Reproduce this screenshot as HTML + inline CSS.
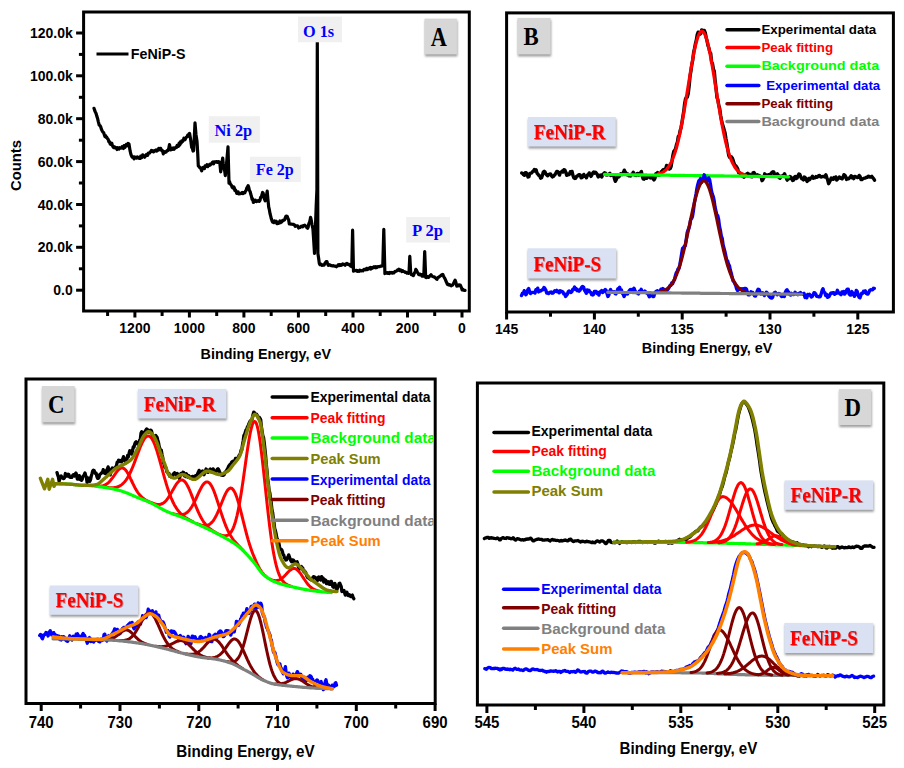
<!DOCTYPE html><html><head><meta charset="utf-8"><style>html,body{margin:0;padding:0;background:#fff;}svg{display:block;}</style></head><body>
<svg width="904" height="768" viewBox="0 0 904 768">
<defs><filter id="blur" x="-20%" y="-20%" width="140%" height="140%"><feGaussianBlur stdDeviation="1"/></filter><filter id="tsh" x="-10%" y="-10%" width="120%" height="130%"><feDropShadow dx="0.6" dy="0.8" stdDeviation="0.5" flood-color="#600" flood-opacity="0.55"/></filter><clipPath id="clipC"><rect x="27.5" y="380" width="406" height="322"/></clipPath></defs>
<rect width="904" height="768" fill="#fff"/>
<polyline points="94,108.3 94.7,110.5 95.3,111.9 96,113.2 96.8,116.1 97.5,118.1 98.3,121.6 99.2,125 100,125.6 100.8,127 101.5,129.6 102.3,131.1 103,132.2 103.7,132.6 104.3,134.7 105,136.6 105.7,135.8 106.3,137.6 106.9,137.4 107.6,138.9 108.2,139.3 108.8,141.6 109.4,141.5 110,143.7 110.6,144.3 111.2,144.6 111.8,143.2 112.4,145.6 113,146.7 113.6,147.5 114.2,146.7 114.9,147.8 115.6,147.4 116.3,147.7 117,149.5 117.6,147.7 118.3,148.3 118.9,149.1 119.5,147.7 120.2,148.1 120.8,148.2 121.5,147.9 122.1,146.6 122.8,147.5 123.5,148.5 124.1,145.6 124.8,147.6 125.5,146 126.3,144.4 127,145.8 128.1,143.5 129,143.9 130.1,150.9 130.8,154 131.5,155.9 132.1,157.1 132.8,156.7 133.4,157.8 134,158.8 134.7,157 135.4,157.9 136.1,157.4 136.7,158 137.4,156.9 138.1,157.6 138.8,157.7 139.4,158.5 140.1,158.5 140.7,156.1 141.4,156.4 142.1,157.5 142.7,154.9 143.4,156.1 144,156.2 144.7,157.2 145.3,156.3 145.9,155 146.5,154.5 147.1,154.2 147.7,155.3 148.4,153.2 149,152.8 149.6,153 150.2,152.1 150.8,151.6 151.4,150.4 152.1,151.2 152.8,150.6 153.6,151.9 154.3,151.3 155,150.5 155.6,150.9 156.2,149.9 156.8,151 157.5,149.9 158.1,150.2 158.7,148.4 159.3,149.7 160,148.3 160.7,148.4 161.3,150.3 162,150.2 162.7,151.6 163.3,153.9 164,151.5 164.7,152.1 165.4,152.3 166,152.1 166.7,150.9 167.3,150.4 168,150.6 168.8,148.2 169.5,144.5 170.5,149.9 171.2,149.7 171.9,148.5 172.6,149.3 173.3,148 174,149.4 174.7,148.4 175.3,148 175.9,147.1 176.6,147.3 177.2,145.3 177.9,145.8 178.5,146.3 179.1,143.2 179.8,145 180.4,141.8 181,143.2 181.7,141 182.4,141.7 183.2,140.4 183.9,138.2 184.6,139.9 185.2,139.6 185.8,137.8 186.4,137.2 187,136.9 187.7,135.2 188.3,136.2 188.9,133.9 189.6,133.5 190.6,139.3 191.7,147.5 192.3,147.9 193,151 193.6,150.7 194.3,137.7 195,122.9 196,134.7 197,141.2 197.7,153.1 198.3,165.8 199,166.5 199.7,167.5 200.3,167.6 201,169.1 201.7,170.8 202.4,168.2 203.1,167.4 203.8,168.1 204.5,168.6 205.1,165.8 205.8,166.6 206.4,166 207,164.7 207.7,166.7 208.3,165.8 209,165.5 209.6,164.4 210.3,165 210.9,163.8 211.6,163.7 212.3,162.5 212.9,162 213.6,163.8 214.2,161.8 214.9,162.2 215.5,161.9 216.1,161.5 216.7,161.5 217.4,162.4 218,161.6 218.6,161.8 219.2,161.9 219.8,162.9 220.7,171.8 221.4,167.5 222,162.7 222.7,158 223.3,164 224,168 224.7,171 225.3,175.6 226,168.8 226.7,161.9 227.3,155 228,146.9 229,183.1 229.6,181.6 230.3,184.1 230.9,184.6 231.6,185.7 232.2,187.4 232.9,188 233.5,186.8 234.2,187.4 234.8,190.4 235.5,189.9 236.2,191.7 236.8,193.4 237.5,192.3 238.2,192 238.8,193.9 239.5,193.7 240.1,193.5 240.8,193.7 241.5,193 242.1,192.5 242.8,193.6 243.4,192.9 244.1,192.4 244.8,192.9 245.4,191.2 246.1,190.4 246.8,188 247.4,187.1 248.1,185.6 248.8,187.6 249.4,190.4 250.1,191.5 250.8,194.3 251.4,196.2 252.1,199.5 252.7,198.7 253.4,202.4 254.1,201.5 254.7,201.4 255.4,200.2 256,200.8 256.7,201.6 257.4,200.9 258,200.9 258.7,200.4 259.3,201.4 260,200.4 260.6,197.3 261.3,197.2 261.9,194.9 262.6,192.5 263.2,193.3 263.9,197.4 264.5,199.1 265.2,200.8 265.9,197.4 266.5,195.5 267.2,191.2 267.9,199.1 268.7,207 269.4,209.9 270,213.5 270.7,216.2 271.3,218.8 272,220.8 272.6,222.1 273.2,221.3 273.8,222.7 274.5,221 275.1,222 275.7,222.2 276.3,221.3 276.9,223.7 277.5,223.6 278.2,222.3 278.8,223.3 279.4,223.1 280,221 280.6,222.7 281.3,222 281.9,221.7 282.6,220.4 283.2,220.5 283.9,220.2 284.6,219.8 285.2,217.9 285.9,216.3 286.6,216.1 287.3,216.6 288,218.7 288.6,219.6 289.3,224 290,223.9 290.6,224.1 291.3,224.2 291.9,224.1 292.6,224.4 293.3,224.3 293.9,224.6 294.6,225.1 295.2,226.4 295.9,226 296.6,225.9 297.3,225.8 297.9,226.1 298.6,228 299.3,227.5 300,227.5 300.7,226.9 301.3,226.1 302,226.5 302.7,226.8 303.4,225.6 304,225.4 304.7,225.1 305.4,226.1 306.1,226 306.9,227.7 307.6,228.2 308.2,227 308.8,223.8 309.4,222.3 310,220.6 310.6,217.3 311.4,220.9 312.1,225.1 312.9,228.7 313.7,240.5 314.5,253.5 315.6,222.7 316.2,205.7 316.9,189.9 317.3,42.1 317.9,253.5 318.6,258 319.3,263.4 320,264.7 320.7,263.9 321.4,264.9 322,265.3 322.7,264.9 323.4,265.2 324.1,265.2 324.8,263.5 325.5,262.6 326.2,261.6 326.9,261.5 327.6,263.9 328.3,265.4 328.9,264.7 329.6,264.8 330.2,265.1 330.8,265.6 331.4,265.5 332.1,265.8 332.7,265.9 333.3,265.7 333.9,266 334.6,266.2 335.2,266.2 335.8,266.3 336.4,266.8 337,266.1 337.7,265.7 338.3,264.8 338.9,265.6 339.5,264.5 340.1,264.6 340.7,265.5 341.4,265.3 342,264.8 342.6,264 343.2,264.5 343.8,264.2 344.4,264.7 345.1,265.3 345.7,264.2 346.3,263.7 346.9,263.4 347.5,264.2 348.1,264.4 348.7,264.2 349.4,265.1 350,264.8 350.6,266.1 351.2,266.4 351.8,266.7 352.6,230.2 353.5,271.1 354.1,270.8 354.8,270.7 355.4,270.7 356,270.3 356.6,270.3 357.2,271.3 357.9,270.8 358.5,271 359.1,271.4 359.8,270.1 360.4,270.5 361,271 361.6,270.9 362.2,270.3 362.9,270.8 363.5,270.2 364.1,269.4 364.7,269.3 365.3,269.9 366,269.6 366.6,268.3 367.2,269.6 367.8,269 368.4,269.2 369.1,268.2 369.7,268.1 370.3,267.5 370.9,269.1 371.6,267.7 372.2,268.4 372.8,267.3 373.4,267.6 374.1,266.7 374.7,267.2 375.3,267.7 375.9,266.6 376.6,267.6 377.2,267.2 377.8,266.5 378.4,266.6 379.1,266.5 379.7,266.6 380.3,266.3 380.9,266.1 381.6,266.2 382.2,265.8 382.8,265.6 383.8,229.3 384.9,273.6 385.5,272.5 386.2,273.1 386.8,272.8 387.4,272.6 388.1,273.4 388.7,272.7 389.4,273.6 390,272.5 390.6,273 391.3,272.7 391.9,272.4 392.5,273 393.2,272.6 393.8,272.9 394.4,272.2 395.1,271.3 395.7,271.4 396.3,271 396.9,271 397.6,269.8 398.2,269.8 398.8,269.2 399.5,270.5 400.1,270 400.7,269.9 401.4,270.9 402,271.6 402.6,270.7 403.2,271.1 403.9,271.5 404.5,271.5 405.1,272.4 405.8,272.1 406.4,272.4 407,273.1 407.7,272.7 408.4,273.3 409,272.9 409.8,256.4 410.7,272.5 411.4,274.7 412,274.3 412.7,275.1 413.4,275.6 414,274.2 414.6,272.7 415.2,272.1 415.8,269.3 416.6,270.5 417.3,272.1 418.1,273.3 418.7,274.5 419.4,274.8 420,274.2 420.6,274.3 421.3,275 421.9,276.1 422.5,274.4 423.2,276.2 423.8,275.7 424.7,251.5 425.7,277.5 426.4,277.6 427,276.7 427.7,276.7 428.4,277.4 429,276.9 429.7,276 430.3,275.5 431,274.7 431.7,275.8 432.3,276.3 433,276.6 433.6,276.9 434.3,276.8 434.9,277.6 435.6,277.9 436.2,278.8 436.9,279.4 437.6,278.1 438.2,277.3 438.9,277.2 439.5,276.5 440.2,276 440.8,275.8 441.5,274.9 442.1,275.2 442.8,274.5 443.5,276 444.1,277.2 444.8,278.4 445.4,279.7 446.1,281.5 446.7,282.7 447.4,284.5 448.1,284.7 448.7,284.3 449.4,285.2 450.1,284.8 450.8,285.4 451.4,285.8 452.1,285.3 452.7,285.1 453.3,283.9 453.9,282.6 454.5,281.3 455.1,280.1 456,282.8 456.8,286.1 457.5,285.7 458.2,285.8 458.9,284.9 459.6,285.3 460.3,285.1 460.9,286.5 461.5,287.9 462.1,289.9 462.8,289.1 463.6,290.2 464.3,290.3 465,290.4" fill="none" stroke="#000" stroke-width="3.2" stroke-linejoin="round" stroke-linecap="round" />
<rect x="83.6" y="12" width="385.7" height="299" fill="none" stroke="#000" stroke-width="3"/>
<line x1="76.1" y1="290.2" x2="83.6" y2="290.2" stroke="#000" stroke-width="3" stroke-linecap="butt"/>
<line x1="78.9" y1="268.8" x2="83.6" y2="268.8" stroke="#000" stroke-width="3" stroke-linecap="butt"/>
<line x1="76.1" y1="247.3" x2="83.6" y2="247.3" stroke="#000" stroke-width="3" stroke-linecap="butt"/>
<line x1="78.9" y1="225.9" x2="83.6" y2="225.9" stroke="#000" stroke-width="3" stroke-linecap="butt"/>
<line x1="76.1" y1="204.5" x2="83.6" y2="204.5" stroke="#000" stroke-width="3" stroke-linecap="butt"/>
<line x1="78.9" y1="183" x2="83.6" y2="183" stroke="#000" stroke-width="3" stroke-linecap="butt"/>
<line x1="76.1" y1="161.6" x2="83.6" y2="161.6" stroke="#000" stroke-width="3" stroke-linecap="butt"/>
<line x1="78.9" y1="140.2" x2="83.6" y2="140.2" stroke="#000" stroke-width="3" stroke-linecap="butt"/>
<line x1="76.1" y1="118.7" x2="83.6" y2="118.7" stroke="#000" stroke-width="3" stroke-linecap="butt"/>
<line x1="78.9" y1="97.3" x2="83.6" y2="97.3" stroke="#000" stroke-width="3" stroke-linecap="butt"/>
<line x1="76.1" y1="75.8" x2="83.6" y2="75.8" stroke="#000" stroke-width="3" stroke-linecap="butt"/>
<line x1="78.9" y1="54.4" x2="83.6" y2="54.4" stroke="#000" stroke-width="3" stroke-linecap="butt"/>
<line x1="76.1" y1="33" x2="83.6" y2="33" stroke="#000" stroke-width="3" stroke-linecap="butt"/>
<text x="0" y="0" font-family='"Liberation Sans", sans-serif' font-size="14" font-weight="bold" fill="#000" text-anchor="end"  transform="translate(72.8 295.2) scale(1 1.05)">0.0</text>
<text x="0" y="0" font-family='"Liberation Sans", sans-serif' font-size="14" font-weight="bold" fill="#000" text-anchor="end"  transform="translate(72.8 252.3) scale(1 1.05)">20.0k</text>
<text x="0" y="0" font-family='"Liberation Sans", sans-serif' font-size="14" font-weight="bold" fill="#000" text-anchor="end"  transform="translate(72.8 209.5) scale(1 1.05)">40.0k</text>
<text x="0" y="0" font-family='"Liberation Sans", sans-serif' font-size="14" font-weight="bold" fill="#000" text-anchor="end"  transform="translate(72.8 166.6) scale(1 1.05)">60.0k</text>
<text x="0" y="0" font-family='"Liberation Sans", sans-serif' font-size="14" font-weight="bold" fill="#000" text-anchor="end"  transform="translate(72.8 123.7) scale(1 1.05)">80.0k</text>
<text x="0" y="0" font-family='"Liberation Sans", sans-serif' font-size="14" font-weight="bold" fill="#000" text-anchor="end"  transform="translate(72.8 80.8) scale(1 1.05)">100.0k</text>
<text x="0" y="0" font-family='"Liberation Sans", sans-serif' font-size="14" font-weight="bold" fill="#000" text-anchor="end"  transform="translate(72.8 38) scale(1 1.05)">120.0k</text>
<line x1="462" y1="311" x2="462" y2="317.5" stroke="#000" stroke-width="3" stroke-linecap="butt"/>
<line x1="407.5" y1="311" x2="407.5" y2="317.5" stroke="#000" stroke-width="3" stroke-linecap="butt"/>
<line x1="353" y1="311" x2="353" y2="317.5" stroke="#000" stroke-width="3" stroke-linecap="butt"/>
<line x1="298.4" y1="311" x2="298.4" y2="317.5" stroke="#000" stroke-width="3" stroke-linecap="butt"/>
<line x1="243.9" y1="311" x2="243.9" y2="317.5" stroke="#000" stroke-width="3" stroke-linecap="butt"/>
<line x1="189.4" y1="311" x2="189.4" y2="317.5" stroke="#000" stroke-width="3" stroke-linecap="butt"/>
<line x1="134.9" y1="311" x2="134.9" y2="317.5" stroke="#000" stroke-width="3" stroke-linecap="butt"/>
<line x1="434.7" y1="311" x2="434.7" y2="316" stroke="#000" stroke-width="3" stroke-linecap="butt"/>
<line x1="380.2" y1="311" x2="380.2" y2="316" stroke="#000" stroke-width="3" stroke-linecap="butt"/>
<line x1="325.7" y1="311" x2="325.7" y2="316" stroke="#000" stroke-width="3" stroke-linecap="butt"/>
<line x1="271.2" y1="311" x2="271.2" y2="316" stroke="#000" stroke-width="3" stroke-linecap="butt"/>
<line x1="216.7" y1="311" x2="216.7" y2="316" stroke="#000" stroke-width="3" stroke-linecap="butt"/>
<line x1="162.1" y1="311" x2="162.1" y2="316" stroke="#000" stroke-width="3" stroke-linecap="butt"/>
<line x1="107.6" y1="311" x2="107.6" y2="316" stroke="#000" stroke-width="3" stroke-linecap="butt"/>
<text x="0" y="0" font-family='"Liberation Sans", sans-serif' font-size="14" font-weight="bold" fill="#000" text-anchor="middle"  transform="translate(462 333.3) scale(1 1.1)">0</text>
<text x="0" y="0" font-family='"Liberation Sans", sans-serif' font-size="14" font-weight="bold" fill="#000" text-anchor="middle"  transform="translate(407.5 333.3) scale(1 1.1)">200</text>
<text x="0" y="0" font-family='"Liberation Sans", sans-serif' font-size="14" font-weight="bold" fill="#000" text-anchor="middle"  transform="translate(353 333.3) scale(1 1.1)">400</text>
<text x="0" y="0" font-family='"Liberation Sans", sans-serif' font-size="14" font-weight="bold" fill="#000" text-anchor="middle"  transform="translate(298.4 333.3) scale(1 1.1)">600</text>
<text x="0" y="0" font-family='"Liberation Sans", sans-serif' font-size="14" font-weight="bold" fill="#000" text-anchor="middle"  transform="translate(243.9 333.3) scale(1 1.1)">800</text>
<text x="0" y="0" font-family='"Liberation Sans", sans-serif' font-size="14" font-weight="bold" fill="#000" text-anchor="middle"  transform="translate(189.4 333.3) scale(1 1.1)">1000</text>
<text x="0" y="0" font-family='"Liberation Sans", sans-serif' font-size="14" font-weight="bold" fill="#000" text-anchor="middle"  transform="translate(134.9 333.3) scale(1 1.1)">1200</text>
<text x="0" y="0" font-family='"Liberation Sans", sans-serif' font-size="14.4" font-weight="bold" fill="#000" text-anchor="middle"  transform="translate(265.8 359.2) scale(1 1.04)" textLength="130.5" lengthAdjust="spacingAndGlyphs">Binding Energy, eV</text>
<text x="21.2" y="165.5" font-family='"Liberation Sans", sans-serif' font-size="15" font-weight="bold" fill="#000" text-anchor="middle" transform="rotate(-90 21.2 165.5)" textLength="51" lengthAdjust="spacingAndGlyphs">Counts</text>
<line x1="96.5" y1="54" x2="128.5" y2="54" stroke="#000" stroke-width="3" stroke-linecap="butt"/>
<text x="130.8" y="59" font-family='"Liberation Sans", sans-serif' font-size="14.3" font-weight="bold" fill="#000" text-anchor="start"  textLength="54.6" lengthAdjust="spacingAndGlyphs">FeNiP-S</text>
<rect x="298" y="16.6" width="44" height="25.7" fill="#f0f0f0"/>
<text x="0" y="0" font-family='"Liberation Serif", serif' font-size="16.3" font-weight="bold" fill="#0000ff" text-anchor="middle"  transform="translate(318.6 36.5) scale(1.0 1.04)" textLength="31.2" lengthAdjust="spacingAndGlyphs">O 1s</text>
<rect x="208.8" y="116.2" width="51.1" height="26.5" fill="#f0f0f0"/>
<text x="0" y="0" font-family='"Liberation Serif", serif' font-size="16.3" font-weight="bold" fill="#0000ff" text-anchor="middle"  transform="translate(233.3 135.6) scale(1.0 1.04)" textLength="37.7" lengthAdjust="spacingAndGlyphs">Ni 2p</text>
<rect x="249.9" y="156.7" width="50.9" height="25.2" fill="#f0f0f0"/>
<text x="0" y="0" font-family='"Liberation Serif", serif' font-size="16.3" font-weight="bold" fill="#0000ff" text-anchor="middle"  transform="translate(274.8 175.4) scale(1.0 1.04)" textLength="38" lengthAdjust="spacingAndGlyphs">Fe 2p</text>
<rect x="406.2" y="217" width="43.8" height="25.6" fill="#f0f0f0"/>
<text x="0" y="0" font-family='"Liberation Serif", serif' font-size="16.3" font-weight="bold" fill="#0000ff" text-anchor="middle"  transform="translate(427.5 235.7) scale(1.0 1.04)" textLength="31" lengthAdjust="spacingAndGlyphs">P 2p</text>
<rect x="425" y="20.6" width="32.4" height="35.8" fill="#9a9a9a" filter="url(#blur)"/>
<rect x="424.5" y="18.6" width="32.4" height="35.8" fill="#d7d7d7"/>
<text x="0" y="0" font-family='"Liberation Serif", serif' font-size="24" font-weight="bold" fill="#000" text-anchor="middle"  transform="translate(438.8 45.6) scale(0.93 1.14)">A</text>
<polyline points="521.7,173.1 522.6,173.4 523.5,174.7 524.4,175.3 525.3,172.7 526.2,172.8 527.1,174 528,177 528.9,176.7 529.8,173.4 530.7,173.3 531.6,172.9 532.5,171.7 533.4,171.1 534.3,169.5 535.2,171 536.1,169.8 537,173.1 537.9,174.2 538.8,175.3 539.7,175.9 540.6,178.2 541.5,177.8 542.4,175.4 543.3,172 544.2,171.3 545.1,172.1 546,174.1 546.9,175.1 547.8,175.8 548.7,174.4 549.6,174.2 550.5,173.9 551.4,175.5 552.3,176.9 553.2,176.5 554.1,175.5 555,174.6 555.9,173 556.8,171.4 557.7,171.7 558.6,172.8 559.5,175.1 560.4,172.4 561.3,172.1 562.2,171 563.1,172 564,169.7 564.9,170.1 565.8,172.2 566.7,175.3 567.6,175 568.5,174 569.4,174.4 570.3,171.8 571.2,171.7 572.1,171.5 573,175.6 573.9,177.8 574.8,178.5 575.7,178.1 576.6,176.4 577.5,176 578.4,175 579.3,174.6 580.2,174.8 581.1,177.8 582,177.6 582.9,176.5 583.8,174.4 584.7,176.2 585.6,176.2 586.5,177.8 587.4,175 588.3,174.8 589.2,172.9 590.1,175 591,176.4 591.9,174.9 592.8,172.9 593.7,172 594.6,173.1 595.5,172.3 596.4,173.2 597.3,174.6 598.2,177 599.1,175.2 600,175.9 600.9,175 601.8,176.9 602.7,174.6 603.6,173.8 604.5,172.8 605.4,173.1 606.3,174.9 607.2,175 608.1,174.7 609,174 609.9,173.3 610.8,175.5 611.7,174.7 612.6,174.6 613.5,174.9 614.4,178.4 615.3,181.3 616.2,179.9 617.1,177.5 618,177 618.9,176.8 619.8,175.4 620.7,173.7 621.6,174.4 622.5,174.6 623.4,172.5 624.3,170.2 625.2,172 626.1,173.1 627,174.7 627.9,174.1 628.8,175.8 629.7,175.6 630.6,175.9 631.5,174.1 632.4,174.1 633.3,172.3 634.2,174.7 635.1,175.2 636,175.5 636.9,173.7 637.8,173.5 638.7,175.2 639.6,173.8 640.5,172.8 641.4,171.5 642.3,176.5 643.2,178.9 644.1,179.2 645,177 645.9,178.3 646.8,178.2 647.7,176.9 648.6,175.9 649.5,176.7 650.4,177.9 651.3,175.8 652.2,177.5 653.1,178.7 654,179.9 654.9,178.3 655.8,173.8 656.7,173.7 657.6,172.5 658.5,175.2 659.4,175 660.3,174.6 661.2,171.7 662.1,170.9 663,169.9 663.9,171 664.8,169.1 665.7,168.8 666.6,165.5 667.5,166.7 668.4,166.2 669.3,169.1 670.2,168.6 671.1,166.6 672,161 672.9,155.3 673.8,151.3 674.7,150.3 675.6,148.7 676.5,144.5 677.4,142.2 678.3,136.4 679.2,135.6 680.1,130.7 681,127.9 681.9,122.7 682.8,117.1 683.7,111.6 684.6,103.9 685.5,99.1 686.4,97.2 687.3,97.2 688.2,93.7 689.1,86.3 690,76.5 690.9,71.2 691.8,64.6 692.7,60.5 693.6,52.7 694.5,48.5 695.4,43.7 696.3,40.3 697.2,34.9 698.1,32.2 699,34.2 699.9,34.3 700.8,33.5 701.7,29.9 702.6,31.4 703.5,30.5 704.4,30.5 705.3,32.8 706.2,37.6 707.1,41.2 708,45.7 708.9,48 709.8,52.2 710.7,53.3 711.6,62 712.5,63.8 713.4,69 714.3,71.4 715.2,81.3 716.1,89 717,97.6 717.9,99.9 718.8,105.6 719.7,108.6 720.6,115.2 721.5,120 722.4,124 723.3,126.7 724.2,129.9 725.1,133.3 726,139.1 726.9,143.7 727.8,149.4 728.7,155.3 729.6,157.4 730.5,157.6 731.4,156.9 732.3,158.1 733.2,160.4 734.1,163.6 735,165.4 735.9,165.8 736.8,167.2 737.7,168.9 738.6,172.6 739.5,172.7 740.4,174.2 741.3,174.4 742.2,176.2 743.1,176.4 744,177.2 744.9,176.5 745.8,174.5 746.7,174 747.6,173.4 748.5,175.5 749.4,174.2 750.3,176.6 751.2,176.6 752.1,176.8 753,172.9 753.9,172.5 754.8,173.8 755.7,175.1 756.6,175.5 757.5,174.9 758.4,176.4 759.3,175.5 760.2,176.2 761.1,176.7 762,180.7 762.9,179.6 763.8,177.8 764.7,173.8 765.6,175.9 766.5,175.1 767.4,175.6 768.3,174.6 769.2,174.8 770.1,174.3 771,173.7 771.9,172.4 772.8,171.8 773.7,171.9 774.6,174.6 775.5,176.1 776.4,174.5 777.3,173.8 778.2,175 779.1,177.8 780,178.2 780.9,176.2 781.8,176.3 782.7,175.7 783.6,175.4 784.5,173.7 785.4,176.1 786.3,177.8 787.2,180.2 788.1,177.9 789,178.7 789.9,176.6 790.8,177 791.7,178.9 792.6,180.5 793.5,180.1 794.4,177.1 795.3,176.5 796.2,178.6 797.1,178.1 798,175.7 798.9,173.9 799.8,174.5 800.7,176.7 801.6,178.6 802.5,179 803.4,179.9 804.3,177 805.2,177.6 806.1,179.2 807,181.4 807.9,180.7 808.8,178.4 809.7,179.6 810.6,178.2 811.5,177.9 812.4,176.3 813.3,178.3 814.2,177.9 815.1,177.8 816,176.6 816.9,177.2 817.8,176.7 818.7,175.7 819.6,175.5 820.5,176.8 821.4,177 822.3,176.7 823.2,176.5 824.1,176.4 825,176.9 825.9,174.8 826.8,177.5 827.7,180 828.6,183.7 829.5,182.1 830.4,180.2 831.3,178 832.2,178.4 833.1,179.3 834,177.6 834.9,178.8 835.8,176.9 836.7,180.1 837.6,179.1 838.5,178.4 839.4,177 840.3,177.7 841.2,178.5 842.1,178.8 843,177.3 843.9,174.7 844.8,175.2 845.7,176.7 846.6,179.4 847.5,178.4 848.4,178.8 849.3,178.1 850.2,177.2 851.1,175.8 852,177.7 852.9,176.9 853.8,178.6 854.7,176.4 855.6,176.8 856.5,176.9 857.4,177.5 858.3,177.3 859.2,175.4 860.1,176.6 861,179.6 861.9,179.5 862.8,178.9 863.7,178.3 864.6,178.1 865.5,178 866.4,177.1 867.3,177.3 868.2,176.3 869.1,176.4 870,177.1 870.9,177 871.8,176.4 872.7,177.7 873.6,178.7 874.5,180.2" fill="none" stroke="#000" stroke-width="3.4" stroke-linejoin="round" stroke-linecap="round" />
<polyline points="658.5,173.9 659.5,173.6 660.5,173.3 661.5,172.9 662.5,172.4 663.5,171.8 664.5,171.1 665.5,170.3 666.5,169.3 667.5,168.2 668.5,166.8 669.5,165.3 670.5,163.6 671.5,161.6 672.5,159.4 673.5,156.8 674.5,154 675.5,150.9 676.5,147.5 677.5,143.7 678.5,139.6 679.5,135.2 680.5,130.5 681.5,125.4 682.5,120.1 683.5,114.5 684.5,108.7 685.5,102.7 686.5,96.6 687.5,90.3 688.5,84.1 689.5,77.9 690.5,71.8 691.5,65.9 692.5,60.2 693.5,54.9 694.5,49.9 695.5,45.4 696.5,41.5 697.5,38.1 698.5,35.3 699.5,33.2 700.5,31.9 701.5,31.2 702.5,31.3 703.5,32.1 704.5,33.7 705.5,35.9 706.5,38.8 707.5,42.3 708.5,46.5 709.5,51.1 710.5,56.1 711.5,61.6 712.5,67.3 713.5,73.3 714.5,79.5 715.5,85.7 716.5,92 717.5,98.2 718.5,104.3 719.5,110.3 720.5,116.1 721.5,121.7 722.5,127 723.5,132 724.5,136.7 725.5,141.1 726.5,145.1 727.5,148.8 728.5,152.2 729.5,155.3 730.5,158.1 731.5,160.6 732.5,162.8 733.5,164.8 734.5,166.5 735.5,168 736.5,169.3 737.5,170.4 738.5,171.4 739.5,172.2 740.5,172.9 741.5,173.5 742.5,174 743.5,174.5 744.5,174.8 745.5,175.1" fill="none" stroke="#ff0000" stroke-width="3.2" stroke-linejoin="round" stroke-linecap="round" />
<polyline points="604.5,174.4 605.5,174.4 606.5,174.4 607.5,174.4 608.5,174.5 609.5,174.5 610.5,174.5 611.5,174.5 612.5,174.5 613.5,174.5 614.5,174.5 615.5,174.5 616.5,174.6 617.5,174.6 618.5,174.6 619.5,174.6 620.5,174.6 621.5,174.6 622.5,174.6 623.5,174.6 624.5,174.7 625.5,174.7 626.5,174.7 627.5,174.7 628.5,174.7 629.5,174.7 630.5,174.7 631.5,174.8 632.5,174.8 633.5,174.8 634.5,174.8 635.5,174.8 636.5,174.8 637.5,174.8 638.5,174.8 639.5,174.9 640.5,174.9 641.5,174.9 642.5,174.9 643.5,174.9 644.5,174.9 645.5,174.9 646.5,174.9 647.5,175 648.5,175 649.5,175 650.5,175 651.5,175 652.5,175 653.5,175 654.5,175.1 655.5,175.1 656.5,175.1 657.5,175.1 658.5,175.1 659.5,175.1 660.5,175.1 661.5,175.1 662.5,175.2 663.5,175.2 664.5,175.2 665.5,175.2 666.5,175.2 667.5,175.2 668.5,175.2 669.5,175.2 670.5,175.3 671.5,175.3 672.5,175.3 673.5,175.3 674.5,175.3 675.5,175.3 676.5,175.3 677.5,175.3 678.5,175.4 679.5,175.4 680.5,175.4 681.5,175.4 682.5,175.4 683.5,175.4 684.5,175.4 685.5,175.5 686.5,175.5 687.5,175.5 688.5,175.5 689.5,175.5 690.5,175.5 691.5,175.5 692.5,175.5 693.5,175.6 694.5,175.6 695.5,175.6 696.5,175.6 697.5,175.6 698.5,175.6 699.5,175.6 700.5,175.6 701.5,175.7 702.5,175.7 703.5,175.7 704.5,175.7 705.5,175.7 706.5,175.7 707.5,175.7 708.5,175.8 709.5,175.8 710.5,175.8 711.5,175.8 712.5,175.8 713.5,175.8 714.5,175.8 715.5,175.8 716.5,175.9 717.5,175.9 718.5,175.9 719.5,175.9 720.5,175.9 721.5,175.9 722.5,175.9 723.5,175.9 724.5,176 725.5,176 726.5,176 727.5,176 728.5,176 729.5,176 730.5,176 731.5,176.1 732.5,176.1 733.5,176.1 734.5,176.1 735.5,176.1 736.5,176.1 737.5,176.1 738.5,176.1 739.5,176.2 740.5,176.2 741.5,176.2 742.5,176.2 743.5,176.2 744.5,176.2 745.5,176.2 746.5,176.2 747.5,176.3 748.5,176.3 749.5,176.3 750.5,176.3 751.5,176.3 752.5,176.3 753.5,176.3 754.5,176.4 755.5,176.4 756.5,176.4 757.5,176.4 758.5,176.4 759.5,176.4 760.5,176.4 761.5,176.4 762.5,176.5 763.5,176.5 764.5,176.5 765.5,176.5 766.5,176.5 767.5,176.5 768.5,176.5 769.5,176.5 770.5,176.6 771.5,176.6 772.5,176.6 773.5,176.6 774.5,176.6 775.5,176.6 776.5,176.6 777.5,176.7 778.5,176.7 779.5,176.7 780.5,176.7 781.5,176.7 782.5,176.7 783.5,176.7 784.5,176.7 785.5,176.8 786.5,176.8 787.5,176.8 788.5,176.8" fill="none" stroke="#00ff00" stroke-width="3.2" stroke-linejoin="round" stroke-linecap="round" />
<polyline points="521.5,295.6 522.4,293.3 523.3,293.6 524.2,290.7 525.1,293.7 526,294.8 526.9,292.9 527.8,289.7 528.7,288.5 529.6,291.7 530.5,293.6 531.4,292.8 532.3,292.4 533.2,292.4 534.1,292.4 535,293 535.9,289.7 536.8,290.5 537.7,288.2 538.6,291.9 539.5,290.9 540.4,291.1 541.3,290.5 542.2,289.7 543.1,289.7 544,287.5 544.9,288.5 545.8,290.1 546.7,293.1 547.6,293 548.5,293.6 549.4,292.5 550.3,292.6 551.2,292 552.1,293.2 553,293 553.9,292 554.8,290.7 555.7,291.2 556.6,290.4 557.5,291.8 558.4,291.3 559.3,292.8 560.2,290.7 561.1,291.6 562,291.5 562.9,292 563.8,293.9 564.7,293.9 565.6,296.4 566.5,295.2 567.4,294.1 568.3,291.6 569.2,291 570.1,291.9 571,292.4 571.9,291.6 572.8,289.4 573.7,289.1 574.6,287 575.5,289.5 576.4,288.9 577.3,290.6 578.2,290 579.1,291.1 580,290.3 580.9,288.6 581.8,287.1 582.7,286.4 583.6,287.3 584.5,290.3 585.4,291.5 586.3,293.3 587.2,290 588.1,291.5 589,290.4 589.9,292 590.8,292.3 591.7,294.7 592.6,295 593.5,294.5 594.4,291.4 595.3,291.8 596.2,291.4 597.1,293.5 598,292.8 598.9,295.1 599.8,291.9 600.7,291.6 601.6,290.6 602.5,292.5 603.4,291.9 604.3,290.6 605.2,289.5 606.1,290.5 607,293.6 607.9,296.5 608.8,295.1 609.7,291.3 610.6,289.6 611.5,292 612.4,292.1 613.3,291.8 614.2,291.6 615.1,293.6 616,293.9 616.9,291.7 617.8,288.9 618.7,288.5 619.6,287.3 620.5,289.9 621.4,290 622.3,293.1 623.2,294.4 624.1,296.5 625,294.6 625.9,293.5 626.8,293.5 627.7,293.9 628.6,291.9 629.5,290.4 630.4,289.5 631.3,292.2 632.2,289.6 633.1,290.2 634,288.2 634.9,290.7 635.8,292.2 636.7,292.8 637.6,292.8 638.5,293.9 639.4,291.2 640.3,291.5 641.2,289.3 642.1,291.9 643,292.2 643.9,292 644.8,291.1 645.7,291.8 646.6,293.2 647.5,293.2 648.4,294.6 649.3,296.8 650.2,295.9 651.1,293.9 652,294.1 652.9,296.6 653.8,296.5 654.7,293.4 655.6,291.8 656.5,291.2 657.4,290.7 658.3,292.1 659.2,291.7 660.1,291.6 661,289.2 661.9,289.3 662.8,288.5 663.7,289.3 664.6,290.2 665.5,291.2 666.4,291.4 667.3,290 668.2,288.9 669.1,287.3 670,285.6 670.9,285.3 671.8,282.9 672.7,283.5 673.6,281.1 674.5,279.8 675.4,275.7 676.3,272.8 677.2,271.6 678.1,268.8 679,268.5 679.9,264.4 680.8,259.3 681.7,253.5 682.6,248.3 683.5,247.6 684.4,246.2 685.3,245.8 686.2,239.9 687.1,233.1 688,230.3 688.9,228.3 689.8,225.1 690.7,219.6 691.6,218.5 692.5,216.3 693.4,210.8 694.3,203.4 695.2,198.5 696.1,193.7 697,188.1 697.9,184.1 698.8,180.9 699.7,180.2 700.6,178.4 701.5,182.5 702.4,180.2 703.3,179.2 704.2,174.8 705.1,177.3 706,180.1 706.9,180.8 707.8,180.4 708.7,177.9 709.6,179.7 710.5,184.9 711.4,190.8 712.3,194.2 713.2,196.4 714.1,200.4 715,206.9 715.9,210.8 716.8,214.8 717.7,215.7 718.6,219.4 719.5,226.6 720.4,230.5 721.3,236 722.2,238.3 723.1,245 724,248.3 724.9,251.7 725.8,255.8 726.7,260.2 727.6,261 728.5,263.9 729.4,265.7 730.3,270 731.2,272.9 732.1,277 733,280.7 733.9,281.6 734.8,283.6 735.7,285.4 736.6,288.7 737.5,290.4 738.4,289.9 739.3,289.2 740.2,289.4 741.1,288.7 742,289.7 742.9,288.7 743.8,290.3 744.7,288.5 745.6,288.4 746.5,289.1 747.4,292.4 748.3,294.8 749.2,294.9 750.1,293.8 751,291.8 751.9,292.5 752.8,292.5 753.7,294.2 754.6,295.8 755.5,296.1 756.4,293.8 757.3,290.8 758.2,289.2 759.1,289.6 760,292.1 760.9,294 761.8,293.7 762.7,292.9 763.6,294.1 764.5,295.5 765.4,294 766.3,292.2 767.2,292.9 768.1,294.4 769,296.2 769.9,297.2 770.8,297.9 771.7,298.1 772.6,297.4 773.5,294.3 774.4,292.7 775.3,292.3 776.2,293.6 777.1,294.8 778,294 778.9,293.4 779.8,294 780.7,295.2 781.6,296.5 782.5,295.9 783.4,296.4 784.3,296.5 785.2,292.7 786.1,290.7 787,289.8 787.9,291.5 788.8,292.5 789.7,294.4 790.6,295 791.5,293.4 792.4,294.4 793.3,294.5 794.2,294.3 795.1,292.3 796,293.3 796.9,293.9 797.8,294.6 798.7,293.5 799.6,293.3 800.5,292.6 801.4,294 802.3,294.3 803.2,294.4 804.1,293.4 805,297.4 805.9,296.2 806.8,297.8 807.7,294.5 808.6,295.1 809.5,294.4 810.4,295.4 811.3,297 812.2,296.5 813.1,294.8 814,292.7 814.9,292.9 815.8,294.2 816.7,296.4 817.6,296.3 818.5,296.8 819.4,296.9 820.3,296.6 821.2,293.7 822.1,290.6 823,288.7 823.9,292.2 824.8,292.5 825.7,295.6 826.6,294.4 827.5,297.3 828.4,297 829.3,296.2 830.2,294 831.1,292.9 832,293.2 832.9,292.8 833.8,292.7 834.7,294.3 835.6,292.9 836.5,293.2 837.4,290.3 838.3,292.5 839.2,293.1 840.1,294 841,294.7 841.9,291.9 842.8,293.2 843.7,291.6 844.6,294.1 845.5,293 846.4,290.7 847.3,289.1 848.2,289.1 849.1,293.9 850,295 850.9,295 851.8,291.6 852.7,292.9 853.6,294.7 854.5,296.3 855.4,294.4 856.3,290.4 857.2,291.4 858.1,294.7 859,297.3 859.9,297.8 860.8,295.3 861.7,293.3 862.6,293.4 863.5,291.3 864.4,292.2 865.3,290.9 866.2,293.3 867.1,294 868,294.1 868.9,292.2 869.8,290.2 870.7,289.8 871.6,289.9 872.5,289.8 873.4,288.3 874.3,288.5" fill="none" stroke="#0000ff" stroke-width="3.4" stroke-linejoin="round" stroke-linecap="round" />
<polyline points="660.7,291.6 661.7,291.4 662.7,291.1 663.7,290.7 664.7,290.2 665.7,289.7 666.7,289 667.7,288.3 668.7,287.4 669.7,286.4 670.7,285.2 671.7,283.9 672.7,282.4 673.7,280.7 674.7,278.8 675.7,276.7 676.7,274.3 677.7,271.7 678.7,268.9 679.7,265.9 680.7,262.5 681.7,259 682.7,255.2 683.7,251.2 684.7,247 685.7,242.6 686.7,238.1 687.7,233.4 688.7,228.7 689.7,224 690.7,219.2 691.7,214.5 692.7,209.9 693.7,205.5 694.7,201.3 695.7,197.4 696.7,193.8 697.7,190.5 698.7,187.7 699.7,185.3 700.7,183.4 701.7,182 702.7,181.1 703.7,180.8 704.7,181 705.7,181.8 706.7,183.1 707.7,184.9 708.7,187.3 709.7,190 710.7,193.2 711.7,196.8 712.7,200.7 713.7,204.9 714.7,209.3 715.7,213.8 716.7,218.5 717.7,223.3 718.7,228.1 719.7,232.8 720.7,237.5 721.7,242.1 722.7,246.5 723.7,250.8 724.7,254.8 725.7,258.7 726.7,262.3 727.7,265.7 728.7,268.8 729.7,271.7 730.7,274.4 731.7,276.8 732.7,279 733.7,281 734.7,282.7 735.7,284.3 736.7,285.6 737.7,286.9 738.7,287.9 739.7,288.8 740.7,289.6 741.7,290.3 742.7,290.9 743.7,291.4 744.7,291.8 745.7,292.2 746.7,292.5 747.7,292.7" fill="none" stroke="#800000" stroke-width="3.2" stroke-linejoin="round" stroke-linecap="round" />
<polyline points="607.7,292.3 608.7,292.3 609.7,292.3 610.7,292.3 611.7,292.3 612.7,292.4 613.7,292.4 614.7,292.4 615.7,292.4 616.7,292.4 617.7,292.4 618.7,292.4 619.7,292.4 620.7,292.4 621.7,292.4 622.7,292.5 623.7,292.5 624.7,292.5 625.7,292.5 626.7,292.5 627.7,292.5 628.7,292.5 629.7,292.5 630.7,292.5 631.7,292.5 632.7,292.6 633.7,292.6 634.7,292.6 635.7,292.6 636.7,292.6 637.7,292.6 638.7,292.6 639.7,292.6 640.7,292.6 641.7,292.6 642.7,292.7 643.7,292.7 644.7,292.7 645.7,292.7 646.7,292.7 647.7,292.7 648.7,292.7 649.7,292.7 650.7,292.7 651.7,292.8 652.7,292.8 653.7,292.8 654.7,292.8 655.7,292.8 656.7,292.8 657.7,292.8 658.7,292.8 659.7,292.8 660.7,292.8 661.7,292.9 662.7,292.9 663.7,292.9 664.7,292.9 665.7,292.9 666.7,292.9 667.7,292.9 668.7,292.9 669.7,292.9 670.7,292.9 671.7,293 672.7,293 673.7,293 674.7,293 675.7,293 676.7,293 677.7,293 678.7,293 679.7,293 680.7,293 681.7,293.1 682.7,293.1 683.7,293.1 684.7,293.1 685.7,293.1 686.7,293.1 687.7,293.1 688.7,293.1 689.7,293.1 690.7,293.2 691.7,293.2 692.7,293.2 693.7,293.2 694.7,293.2 695.7,293.2 696.7,293.2 697.7,293.2 698.7,293.2 699.7,293.2 700.7,293.3 701.7,293.3 702.7,293.3 703.7,293.3 704.7,293.3 705.7,293.3 706.7,293.3 707.7,293.3 708.7,293.3 709.7,293.3 710.7,293.4 711.7,293.4 712.7,293.4 713.7,293.4 714.7,293.4 715.7,293.4 716.7,293.4 717.7,293.4 718.7,293.4 719.7,293.4 720.7,293.5 721.7,293.5 722.7,293.5 723.7,293.5 724.7,293.5 725.7,293.5 726.7,293.5 727.7,293.5 728.7,293.5 729.7,293.6 730.7,293.6 731.7,293.6 732.7,293.6 733.7,293.6 734.7,293.6 735.7,293.6 736.7,293.6 737.7,293.6 738.7,293.6 739.7,293.7 740.7,293.7 741.7,293.7 742.7,293.7 743.7,293.7 744.7,293.7 745.7,293.7 746.7,293.7 747.7,293.7 748.7,293.7 749.7,293.8 750.7,293.8 751.7,293.8 752.7,293.8 753.7,293.8 754.7,293.8 755.7,293.8 756.7,293.8 757.7,293.8 758.7,293.9 759.7,293.9 760.7,293.9 761.7,293.9 762.7,293.9 763.7,293.9 764.7,293.9 765.7,293.9 766.7,293.9 767.7,293.9 768.7,294 769.7,294 770.7,294 771.7,294 772.7,294 773.7,294 774.7,294 775.7,294 776.7,294 777.7,294 778.7,294.1 779.7,294.1 780.7,294.1 781.7,294.1 782.7,294.1 783.7,294.1 784.7,294.1 785.7,294.1 786.7,294.1 787.7,294.1 788.7,294.2 789.7,294.2 790.7,294.2 791.7,294.2 792.7,294.2 793.7,294.2 794.7,294.2 795.7,294.2 796.7,294.2 797.7,294.3 798.7,294.3 799.7,294.3 800.7,294.3 801.7,294.3" fill="none" stroke="#808080" stroke-width="3.2" stroke-linejoin="round" stroke-linecap="round" />
<rect x="506.6" y="12.9" width="386.8" height="299.1" fill="none" stroke="#000" stroke-width="3"/>
<line x1="506.6" y1="312" x2="506.6" y2="319.5" stroke="#000" stroke-width="3" stroke-linecap="butt"/>
<line x1="594.4" y1="312" x2="594.4" y2="319.5" stroke="#000" stroke-width="3" stroke-linecap="butt"/>
<line x1="682.2" y1="312" x2="682.2" y2="319.5" stroke="#000" stroke-width="3" stroke-linecap="butt"/>
<line x1="770" y1="312" x2="770" y2="319.5" stroke="#000" stroke-width="3" stroke-linecap="butt"/>
<line x1="857.8" y1="312" x2="857.8" y2="319.5" stroke="#000" stroke-width="3" stroke-linecap="butt"/>
<line x1="550.5" y1="312" x2="550.5" y2="316.7" stroke="#000" stroke-width="3" stroke-linecap="butt"/>
<line x1="638.3" y1="312" x2="638.3" y2="316.7" stroke="#000" stroke-width="3" stroke-linecap="butt"/>
<line x1="726.1" y1="312" x2="726.1" y2="316.7" stroke="#000" stroke-width="3" stroke-linecap="butt"/>
<line x1="813.9" y1="312" x2="813.9" y2="316.7" stroke="#000" stroke-width="3" stroke-linecap="butt"/>
<text x="0" y="0" font-family='"Liberation Sans", sans-serif' font-size="14" font-weight="bold" fill="#000" text-anchor="middle"  transform="translate(506.6 333.8) scale(1 1.1)">145</text>
<text x="0" y="0" font-family='"Liberation Sans", sans-serif' font-size="14" font-weight="bold" fill="#000" text-anchor="middle"  transform="translate(594.4 333.8) scale(1 1.1)">140</text>
<text x="0" y="0" font-family='"Liberation Sans", sans-serif' font-size="14" font-weight="bold" fill="#000" text-anchor="middle"  transform="translate(682.2 333.8) scale(1 1.1)">135</text>
<text x="0" y="0" font-family='"Liberation Sans", sans-serif' font-size="14" font-weight="bold" fill="#000" text-anchor="middle"  transform="translate(770 333.8) scale(1 1.1)">130</text>
<text x="0" y="0" font-family='"Liberation Sans", sans-serif' font-size="14" font-weight="bold" fill="#000" text-anchor="middle"  transform="translate(857.8 333.8) scale(1 1.1)">125</text>
<text x="0" y="0" font-family='"Liberation Sans", sans-serif' font-size="14.4" font-weight="bold" fill="#000" text-anchor="middle"  transform="translate(707.1 353.3) scale(1 1.05)" textLength="130.6" lengthAdjust="spacingAndGlyphs">Binding Energy, eV</text>
<rect x="517.9" y="19.9" width="33.2" height="36.5" fill="#9a9a9a" filter="url(#blur)"/>
<rect x="517.4" y="17.9" width="33.2" height="36.5" fill="#d7d7d7"/>
<text x="0" y="0" font-family='"Liberation Serif", serif' font-size="24" font-weight="bold" fill="#000" text-anchor="middle"  transform="translate(531 45.2) scale(0.95 1.05)">B</text>
<rect x="528.4" y="119" width="87.9" height="29.5" fill="#9a9a9a" filter="url(#blur)"/>
<rect x="527.9" y="117" width="87.9" height="29.5" fill="#d9e1f2"/>
<text x="0" y="0" font-family='"Liberation Serif", serif' font-size="19.3" font-weight="bold" fill="#ff0000" text-anchor="start" filter="url(#tsh)" transform="translate(533.7 138.5) scale(1 1.07)" textLength="71.8" lengthAdjust="spacingAndGlyphs">FeNiP-R</text>
<rect x="528.1" y="250.3" width="88.6" height="30.2" fill="#9a9a9a" filter="url(#blur)"/>
<rect x="527.6" y="248.3" width="88.6" height="30.2" fill="#d9e1f2"/>
<text x="0" y="0" font-family='"Liberation Serif", serif' font-size="19.3" font-weight="bold" fill="#ff0000" text-anchor="start" filter="url(#tsh)" transform="translate(533.4 270.5) scale(1 1.07)" textLength="67.8" lengthAdjust="spacingAndGlyphs">FeNiP-S</text>
<line x1="727" y1="29.8" x2="758.8" y2="29.8" stroke="#000" stroke-width="3.5" stroke-linecap="round"/>
<text x="761.4" y="34.3" font-family='"Liberation Sans", sans-serif' font-size="13.4" font-weight="bold" fill="#000" text-anchor="start"  textLength="114.9" lengthAdjust="spacingAndGlyphs">Experimental data</text>
<line x1="727" y1="47.6" x2="758.8" y2="47.6" stroke="#ff0000" stroke-width="3.5" stroke-linecap="round"/>
<text x="761.4" y="52" font-family='"Liberation Sans", sans-serif' font-size="13.4" font-weight="bold" fill="#ff0000" text-anchor="start"  textLength="71.7" lengthAdjust="spacingAndGlyphs">Peak fitting</text>
<line x1="727" y1="66.2" x2="758.8" y2="66.2" stroke="#00ff00" stroke-width="3.5" stroke-linecap="round"/>
<text x="761.4" y="70.4" font-family='"Liberation Sans", sans-serif' font-size="13.4" font-weight="bold" fill="#00ff00" text-anchor="start"  textLength="117.9" lengthAdjust="spacingAndGlyphs">Background data</text>
<line x1="727" y1="85.6" x2="758.8" y2="85.6" stroke="#0000ff" stroke-width="3.5" stroke-linecap="round"/>
<text x="766.2" y="89.9" font-family='"Liberation Sans", sans-serif' font-size="13.4" font-weight="bold" fill="#0000ff" text-anchor="start"  textLength="114" lengthAdjust="spacingAndGlyphs">Experimental data</text>
<line x1="727" y1="103.8" x2="758.8" y2="103.8" stroke="#800000" stroke-width="3.5" stroke-linecap="round"/>
<text x="761.4" y="107.8" font-family='"Liberation Sans", sans-serif' font-size="13.4" font-weight="bold" fill="#800000" text-anchor="start"  textLength="71.7" lengthAdjust="spacingAndGlyphs">Peak fitting</text>
<line x1="727" y1="121.6" x2="758.8" y2="121.6" stroke="#808080" stroke-width="3.5" stroke-linecap="round"/>
<text x="761.4" y="126" font-family='"Liberation Sans", sans-serif' font-size="13.4" font-weight="bold" fill="#808080" text-anchor="start"  textLength="117.9" lengthAdjust="spacingAndGlyphs">Background data</text>
<g clip-path="url(#clipC)">
<polyline points="57,472.6 57.7,474.9 58.4,476.9 59.1,481.2 59.8,479 60.5,477.5 61.2,476 61.9,477.4 62.6,477.7 63.3,478.6 64,478.4 64.7,477.3 65.4,473.5 66.1,474.3 66.8,476.1 67.5,476 68.2,474.3 68.9,474.6 69.6,477 70.3,477.4 71,477.4 71.7,477.4 72.4,476 73.1,474.9 73.8,474.7 74.5,476.1 75.2,473.9 75.9,473 76.6,474.6 77.3,479.1 78,476.8 78.7,479 79.4,475.7 80.1,479.5 80.8,477.8 81.5,480.3 82.2,479.3 82.9,476.3 83.6,475.8 84.3,474.7 85,473 85.7,475.6 86.4,477.3 87.1,482.5 87.8,477.9 88.5,478.7 89.2,478.4 89.9,481.3 90.6,479.4 91.3,475.9 92,473.7 92.7,471 93.4,470.2 94.1,470.5 94.8,471.9 95.5,473.6 96.2,473.3 96.9,476.7 97.6,478.4 98.3,478.3 99,477.3 99.7,474.6 100.4,474 101.1,473.5 101.8,472.7 102.5,472.6 103.2,469.6 103.9,471.1 104.6,473.2 105.3,473.6 106,473.4 106.7,470 107.4,469.1 108.1,466.9 108.8,469.4 109.5,473.2 110.2,474.9 110.9,471.8 111.6,469.3 112.3,467.9 113,469.4 113.7,468.5 114.4,468.8 115.1,468.2 115.8,466.8 116.5,465.5 117.2,462.2 117.9,461.9 118.6,460.2 119.3,461.6 120,460.4 120.7,461.7 121.4,461.9 122.1,460.7 122.8,459 123.5,456.6 124.2,458.6 124.9,460.9 125.6,462.4 126.3,460.3 127,459.2 127.7,455.4 128.4,456.8 129.1,453.3 129.8,450.8 130.5,451.2 131.2,453 131.9,454.1 132.6,450.1 133.3,446.9 134,447.2 134.7,444.1 135.4,442.4 136.1,441.8 136.8,442.8 137.5,444 138.2,442.4 138.9,443.8 139.6,440.3 140.3,439.4 141,433.2 141.7,431.7 142.4,432.4 143.1,432.9 143.8,434.4 144.5,432.1 145.2,431.4 145.9,429.9 146.6,429 147.3,429.4 148,430.7 148.7,432.2 149.4,432.2 150.1,430.3 150.8,430.1 151.5,431 152.2,433.8 152.9,437.1 153.6,438.7 154.3,438 155,435.8 155.7,435.4 156.4,436.4 157.1,437.5 157.8,440.2 158.5,442.6 159.2,446.6 159.9,448.5 160.6,450.7 161.3,450.2 162,454.6 162.7,457.3 163.4,462.9 164.1,463.9 164.8,467.2 165.5,466.8 166.2,468.6 166.9,471.8 167.6,472.1 168.3,473.7 169,473.4 169.7,476.3 170.4,476.6 171.1,476.9 171.8,476.2 172.5,476.3 173.2,474 173.9,474.1 174.6,472.8 175.3,473.5 176,474.4 176.7,475.4 177.4,473.5 178.1,475.5 178.8,476.1 179.5,478.5 180.2,475.3 180.9,473.5 181.6,473.2 182.3,474.1 183,472.2 183.7,472.5 184.4,475.9 185.1,475.9 185.8,476.6 186.5,473.8 187.2,476.3 187.9,477.2 188.6,475.6 189.3,476.4 190,476.9 190.7,478.4 191.4,478 192.1,476.6 192.8,476.4 193.5,479 194.2,477.7 194.9,479.3 195.6,475.6 196.3,477.2 197,475.6 197.7,473.5 198.4,472.1 199.1,470.4 199.8,472.4 200.5,473.8 201.2,473.1 201.9,471.7 202.6,471 203.3,472 204,474.7 204.7,472.9 205.4,471.3 206.1,469 206.8,469.9 207.5,472.1 208.2,472.3 208.9,470.9 209.6,469.7 210.3,469.1 211,471.7 211.7,472.1 212.4,471.6 213.1,468.9 213.8,470 214.5,472.5 215.2,473.2 215.9,471.7 216.6,471.1 217.3,469.3 218,468.7 218.7,469.7 219.4,471.3 220.1,473.3 220.8,473.8 221.5,475.1 222.2,474.5 222.9,475.4 223.6,475.2 224.3,474.4 225,472.3 225.7,471.7 226.4,470.7 227.1,469.5 227.8,468.4 228.5,466.5 229.2,465.5 229.9,464.6 230.6,465.6 231.3,462.8 232,461.8 232.7,461.3 233.4,462.6 234.1,460.8 234.8,460.9 235.5,458.4 236.2,458.8 236.9,458.7 237.6,458.5 238.3,457.1 239,455.6 239.7,454.7 240.4,453.4 241.1,450.2 241.8,449.7 242.5,444.7 243.2,440.7 243.9,435.5 244.6,434.5 245.3,432.2 246,430 246.7,429.4 247.4,427 248.1,426 248.8,424 249.5,422.4 250.2,420.8 250.9,420.8 251.6,420.6 252.3,418.1 253,414.7 253.7,412.2 254.4,412.7 255.1,413.8 255.8,414.2 256.5,414.2 257.2,415.3 257.9,416.8 258.6,418.6 259.3,417.3 260,418.4 260.7,419.7 261.4,426.8 262.1,431.2 262.8,435.7 263.5,437.2 264.2,442.4 264.9,448.8 265.6,455.5 266.3,464.5 267,470.7 267.7,479 268.4,483.6 269.1,490.5 269.8,492.8 270.5,497.9 271.2,502.6 271.9,509.5 272.6,512.3 273.3,518.3 274,522.6 274.7,528.6 275.4,530.5 276.1,533.8 276.8,537.8 277.5,539.4 278.2,541 278.9,543.2 279.6,546.9 280.3,549.3 281,549.7 281.7,549.7 282.4,551.3 283.1,554.5 283.8,555.2 284.5,558 285.2,558.4 285.9,560 286.6,559.8 287.3,557.7 288,556.8 288.7,554.9 289.4,556.8 290.1,559.1 290.8,560.6 291.5,561.7 292.2,559.9 292.9,561.6 293.6,560.2 294.3,562.4 295,561.7 295.7,562.4 296.4,562 297.1,561.8 297.8,563.7 298.5,566.7 299.2,569.2 299.9,568.6 300.6,567.5 301.3,566.4 302,568.8 302.7,567.9 303.4,571.1 304.1,570.5 304.8,572.6 305.5,572 306.2,574.3 306.9,576.2 307.6,577.5 308.3,576.9 309,578.4 309.7,579 310.4,579.1 311.1,579.8 311.8,578.8 312.5,579.4 313.2,576.8 313.9,576.6 314.6,577.7 315.3,577.5 316,578.8 316.7,578.5 317.4,580.7 318.1,577.4 318.8,577 319.5,577.7 320.2,579.6 320.9,580.1 321.6,576.6 322.3,578.6 323,577.9 323.7,582.1 324.4,579.3 325.1,581.2 325.8,580.2 326.5,583.7 327.2,582 327.9,581.8 328.6,583.8 329.3,584.2 330,584.4 330.7,581.5 331.4,581.5 332.1,584 332.8,586.7 333.5,587.3 334.2,583.9 334.9,583.4 335.6,585.8 336.3,589.2 337,589.4 337.7,587.2 338.4,586.3 339.1,583.5 339.8,583.2 340.5,585 341.2,586.4 341.9,591.5 342.6,591 343.3,591.6 344,590.4 344.7,593.1 345.4,595.1 346.1,593.3 346.8,592.2 347.5,593.9 348.2,595.5 348.9,594.7 349.6,594.9 350.3,596.4 351,596.6 351.7,595.6 352.4,595.1 353.1,597.5 353.8,598.7" fill="none" stroke="#000" stroke-width="3.3" stroke-linejoin="round" stroke-linecap="round" />
<polyline points="96.9,486.2 97.6,486.2 98.3,486.2 99,486.2 99.7,486.2 100.4,486.2 101.1,486.1 101.8,486 102.5,485.9 103.2,485.7 103.9,485.4 104.6,485.2 105.3,484.8 106,484.5 106.7,484 107.4,483.5 108.1,482.9 108.8,482.3 109.5,481.6 110.2,480.8 110.9,479.9 111.6,479 112.3,478.1 113,477.1 113.7,476.1 114.4,475.1 115.1,474.1 115.8,473.1 116.5,472.2 117.2,471.3 117.9,470.4 118.6,469.7 119.3,469.1 120,468.5 120.7,468.2 121.4,467.9 122.1,467.9 122.8,468 123.5,468.2 124.2,468.7 124.9,469.3 125.6,470 126.3,470.9 127,472 127.7,473.1 128.4,474.4 129.1,475.7 129.8,477.1 130.5,478.6 131.2,480 131.9,481.5 132.6,483 133.3,484.4 134,485.8 134.7,487.2 135.4,488.5 136.1,489.7 136.8,490.9 137.5,492 138.2,493 138.9,494 139.6,494.8 140.3,495.6 141,496.4 141.7,497 142.4,497.7 143.1,498.2 143.8,498.8 144.5,499.2 145.2,499.7 145.9,500.1 146.6,500.5 147.3,500.9 148,501.3 148.7,501.7" fill="none" stroke="#ff0000" stroke-width="3.0" stroke-linejoin="round" stroke-linecap="round" />
<polyline points="106,487.4 106.7,487.5 107.4,487.5 108.1,487.6 108.8,487.6 109.5,487.7 110.2,487.7 110.9,487.7 111.6,487.7 112.3,487.7 113,487.7 113.7,487.7 114.4,487.6 115.1,487.5 115.8,487.4 116.5,487.2 117.2,487 117.9,486.8 118.6,486.5 119.3,486.2 120,485.8 120.7,485.4 121.4,484.9 122.1,484.3 122.8,483.7 123.5,483 124.2,482.3 124.9,481.5 125.6,480.6 126.3,479.6 127,478.6 127.7,477.4 128.4,476.2 129.1,474.9 129.8,473.5 130.5,472 131.2,470.5 131.9,468.9 132.6,467.2 133.3,465.5 134,463.7 134.7,461.9 135.4,460 136.1,458.1 136.8,456.2 137.5,454.3 138.2,452.4 138.9,450.6 139.6,448.8 140.3,447 141,445.4 141.7,443.8 142.4,442.3 143.1,441 143.8,439.7 144.5,438.7 145.2,437.8 145.9,437 146.6,436.5 147.3,436.1 148,436 148.7,436 149.4,436.2 150.1,436.7 150.8,437.3 151.5,438.2 152.2,439.2 152.9,440.5 153.6,441.9 154.3,443.5 155,445.3 155.7,447.2 156.4,449.3 157.1,451.4 157.8,453.7 158.5,456.1 159.2,458.5 159.9,461 160.6,463.5 161.3,466.1 162,468.7 162.7,471.3 163.4,473.8 164.1,476.3 164.8,478.8 165.5,481.2 166.2,483.6 166.9,485.9 167.6,488.1 168.3,490.2 169,492.2 169.7,494.1 170.4,496 171.1,497.8 171.8,499.4 172.5,501 173.2,502.5 173.9,503.9 174.6,505.2 175.3,506.4 176,507.5 176.7,508.6 177.4,509.6 178.1,510.5 178.8,511.4 179.5,512.2 180.2,513 180.9,513.7 181.6,514.3 182.3,515 183,515.6 183.7,516.1 184.4,516.7 185.1,517.2 185.8,517.7 186.5,518.1 187.2,518.6 187.9,519 188.6,519.4 189.3,519.8 190,520.2 190.7,520.6 191.4,521 192.1,521.4 192.8,521.7" fill="none" stroke="#ff0000" stroke-width="3.0" stroke-linejoin="round" stroke-linecap="round" />
<polyline points="149.4,502 150.1,502.3 150.8,502.5 151.5,502.8 152.2,503 152.9,503.3 153.6,503.5 154.3,503.7 155,503.9 155.7,504.1 156.4,504.3 157.1,504.4 157.8,504.4 158.5,504.5 159.2,504.5 159.9,504.4 160.6,504.2 161.3,504 162,503.8 162.7,503.4 163.4,503 164.1,502.5 164.8,501.9 165.5,501.2 166.2,500.5 166.9,499.6 167.6,498.7 168.3,497.7 169,496.6 169.7,495.5 170.4,494.3 171.1,493.1 171.8,491.9 172.5,490.6 173.2,489.4 173.9,488.2 174.6,487 175.3,485.8 176,484.7 176.7,483.7 177.4,482.8 178.1,481.9 178.8,481.3 179.5,480.7 180.2,480.3 180.9,480 181.6,479.9 182.3,480 183,480.2 183.7,480.7 184.4,481.2 185.1,482 185.8,482.9 186.5,484 187.2,485.2 187.9,486.5 188.6,487.9 189.3,489.5 190,491.1 190.7,492.8 191.4,494.6 192.1,496.4 192.8,498.2 193.5,500 194.2,501.9 194.9,503.7 195.6,505.5 196.3,507.2 197,508.9 197.7,510.6 198.4,512.2 199.1,513.7 199.8,515.1 200.5,516.5 201.2,517.8 201.9,519 202.6,520.2 203.3,521.3 204,522.3 204.7,523.2 205.4,524.1 206.1,525 206.8,525.7 207.5,526.5 208.2,527.1 208.9,527.8 209.6,528.4 210.3,528.9 211,529.5 211.7,530 212.4,530.5 213.1,531 213.8,531.4 214.5,531.9 215.2,532.3 215.9,532.7 216.6,533.1" fill="none" stroke="#ff0000" stroke-width="3.0" stroke-linejoin="round" stroke-linecap="round" />
<polyline points="173.2,513.8 173.9,514 174.6,514.2 175.3,514.3 176,514.5 176.7,514.6 177.4,514.7 178.1,514.8 178.8,514.9 179.5,514.9 180.2,514.9 180.9,514.9 181.6,514.8 182.3,514.7 183,514.5 183.7,514.3 184.4,514.1 185.1,513.7 185.8,513.3 186.5,512.9 187.2,512.3 187.9,511.7 188.6,511 189.3,510.2 190,509.3 190.7,508.3 191.4,507.3 192.1,506.2 192.8,504.9 193.5,503.7 194.2,502.3 194.9,500.9 195.6,499.5 196.3,498 197,496.5 197.7,494.9 198.4,493.4 199.1,491.9 199.8,490.5 200.5,489.1 201.2,487.8 201.9,486.5 202.6,485.4 203.3,484.4 204,483.6 204.7,482.9 205.4,482.4 206.1,482 206.8,481.9 207.5,481.9 208.2,482.1 208.9,482.6 209.6,483.2 210.3,484 211,485.1 211.7,486.2 212.4,487.6 213.1,489.1 213.8,490.8 214.5,492.6 215.2,494.5 215.9,496.5 216.6,498.6 217.3,500.7 218,502.9 218.7,505.1 219.4,507.4 220.1,509.6 220.8,511.8 221.5,513.9 222.2,516.1 222.9,518.1 223.6,520.1 224.3,522 225,523.8 225.7,525.6 226.4,527.3 227.1,528.9 227.8,530.4 228.5,531.8 229.2,533.1 229.9,534.4 230.6,535.6 231.3,536.7 232,537.8 232.7,538.8 233.4,539.8 234.1,540.7 234.8,541.5 235.5,542.3 236.2,543.1 236.9,543.9 237.6,544.6 238.3,545.4 239,546.1 239.7,546.8 240.4,547.5 241.1,548.3 241.8,549 242.5,549.7 243.2,550.5" fill="none" stroke="#ff0000" stroke-width="3.0" stroke-linejoin="round" stroke-linecap="round" />
<polyline points="197,523.7 197.7,524 198.4,524.2 199.1,524.5 199.8,524.7 200.5,524.9 201.2,525.1 201.9,525.3 202.6,525.4 203.3,525.5 204,525.6 204.7,525.6 205.4,525.6 206.1,525.5 206.8,525.4 207.5,525.2 208.2,525 208.9,524.6 209.6,524.2 210.3,523.7 211,523.1 211.7,522.5 212.4,521.7 213.1,520.8 213.8,519.8 214.5,518.7 215.2,517.5 215.9,516.2 216.6,514.9 217.3,513.4 218,511.8 218.7,510.2 219.4,508.5 220.1,506.8 220.8,505 221.5,503.3 222.2,501.5 222.9,499.7 223.6,498 224.3,496.4 225,494.8 225.7,493.4 226.4,492.1 227.1,490.9 227.8,489.9 228.5,489.2 229.2,488.6 229.9,488.2 230.6,488.1 231.3,488.2 232,488.5 232.7,489.1 233.4,490 234.1,491.1 234.8,492.4 235.5,493.9 236.2,495.7 236.9,497.6 237.6,499.7 238.3,502 239,504.4 239.7,507 240.4,509.6 241.1,512.3 241.8,515.1 242.5,517.9 243.2,520.8 243.9,523.6 244.6,526.4 245.3,529.2 246,531.9 246.7,534.5 247.4,537.1 248.1,539.6 248.8,541.9 249.5,544.2 250.2,546.4 250.9,548.5 251.6,550.5 252.3,552.4 253,554.2 253.7,555.9 254.4,557.6 255.1,559.2 255.8,560.8 256.5,562.4 257.2,563.9 257.9,565.3 258.6,566.7 259.3,568 260,569.2 260.7,570.3 261.4,571.4 262.1,572.4 262.8,573.3 263.5,574.1 264.2,574.8 264.9,575.4 265.6,576.1 266.3,576.6" fill="none" stroke="#ff0000" stroke-width="3.0" stroke-linejoin="round" stroke-linecap="round" />
<polyline points="218,533.8 218.7,534.1 219.4,534.5 220.1,534.7 220.8,535 221.5,535.2 222.2,535.4 222.9,535.6 223.6,535.7 224.3,535.8 225,535.8 225.7,535.8 226.4,535.7 227.1,535.4 227.8,535.1 228.5,534.7 229.2,534.2 229.9,533.5 230.6,532.7 231.3,531.7 232,530.5 232.7,529.2 233.4,527.6 234.1,525.8 234.8,523.7 235.5,521.5 236.2,518.9 236.9,516.1 237.6,513 238.3,509.7 239,506.1 239.7,502.2 240.4,498.1 241.1,493.8 241.8,489.3 242.5,484.6 243.2,479.8 243.9,474.8 244.6,469.8 245.3,464.7 246,459.7 246.7,454.8 247.4,450 248.1,445.4 248.8,441 249.5,437 250.2,433.3 250.9,430 251.6,427.1 252.3,424.8 253,423 253.7,421.9 254.4,421.4 255.1,421.6 255.8,422.4 256.5,423.9 257.2,426.1 257.9,429 258.6,432.5 259.3,436.7 260,441.3 260.7,446.5 261.4,452 262.1,457.9 262.8,464 263.5,470.4 264.2,476.8 264.9,483.3 265.6,489.9 266.3,496.5 267,503 267.7,509.4 268.4,515.6 269.1,521.5 269.8,527.3 270.5,532.7 271.2,537.9 271.9,542.7 272.6,547.2 273.3,551.4 274,555.3 274.7,558.8 275.4,562 276.1,564.9 276.8,567.5 277.5,569.9 278.2,572 278.9,573.9 279.6,575.6 280.3,577 281,578.3 281.7,579.5 282.4,580.5 283.1,581.4 283.8,582.1 284.5,582.8 285.2,583.4 285.9,583.9 286.6,584.3 287.3,584.7 288,585.1 288.7,585.4 289.4,585.7 290.1,586 290.8,586.2 291.5,586.4" fill="none" stroke="#ff0000" stroke-width="3.0" stroke-linejoin="round" stroke-linecap="round" />
<polyline points="269.8,579 270.5,579.4 271.2,579.7 271.9,580 272.6,580.2 273.3,580.4 274,580.6 274.7,580.6 275.4,580.7 276.1,580.7 276.8,580.6 277.5,580.5 278.2,580.3 278.9,580.1 279.6,579.8 280.3,579.4 281,579 281.7,578.5 282.4,577.9 283.1,577.3 283.8,576.7 284.5,576 285.2,575.2 285.9,574.5 286.6,573.7 287.3,572.9 288,572.2 288.7,571.5 289.4,570.8 290.1,570.2 290.8,569.7 291.5,569.2 292.2,568.9 292.9,568.6 293.6,568.5 294.3,568.5 295,568.6 295.7,568.9 296.4,569.3 297.1,569.8 297.8,570.4 298.5,571.1 299.2,571.9 299.9,572.8 300.6,573.7 301.3,574.7 302,575.8 302.7,576.8 303.4,577.9 304.1,579 304.8,580 305.5,581 306.2,582 306.9,583 307.6,583.9 308.3,584.7 309,585.5 309.7,586.2 310.4,586.9 311.1,587.5 311.8,588 312.5,588.5 313.2,588.9 313.9,589.3 314.6,589.7 315.3,590 316,590.3 316.7,590.5 317.4,590.7 318.1,590.9 318.8,591.1 319.5,591.2 320.2,591.4" fill="none" stroke="#ff0000" stroke-width="3.0" stroke-linejoin="round" stroke-linecap="round" />
<polyline points="57,483.7 57.7,483.7 58.4,483.7 59.1,483.7 59.8,483.8 60.5,483.8 61.2,483.8 61.9,483.8 62.6,483.9 63.3,483.9 64,483.9 64.7,484 65.4,484 66.1,484 66.8,484.1 67.5,484.1 68.2,484.2 68.9,484.2 69.6,484.2 70.3,484.3 71,484.3 71.7,484.4 72.4,484.4 73.1,484.5 73.8,484.6 74.5,484.6 75.2,484.7 75.9,484.8 76.6,484.9 77.3,485 78,485 78.7,485.1 79.4,485.2 80.1,485.2 80.8,485.2 81.5,485.3 82.2,485.3 82.9,485.3 83.6,485.4 84.3,485.4 85,485.4 85.7,485.4 86.4,485.4 87.1,485.5 87.8,485.5 88.5,485.5 89.2,485.6 89.9,485.6 90.6,485.6 91.3,485.7 92,485.8 92.7,485.8 93.4,485.9 94.1,486 94.8,486.1 95.5,486.2 96.2,486.3 96.9,486.4 97.6,486.5 98.3,486.6 99,486.7 99.7,486.8 100.4,486.9 101.1,486.9 101.8,487 102.5,487.1 103.2,487.2 103.9,487.3 104.6,487.4 105.3,487.5 106,487.6 106.7,487.7 107.4,487.9 108.1,488 108.8,488.1 109.5,488.2 110.2,488.3 110.9,488.5 111.6,488.6 112.3,488.7 113,488.9 113.7,489 114.4,489.2 115.1,489.4 115.8,489.5 116.5,489.7 117.2,489.9 117.9,490.1 118.6,490.2 119.3,490.4 120,490.6 120.7,490.8 121.4,491 122.1,491.2 122.8,491.5 123.5,491.7 124.2,492 124.9,492.2 125.6,492.5 126.3,492.7 127,493 127.7,493.3 128.4,493.6 129.1,493.9 129.8,494.2 130.5,494.5 131.2,494.8 131.9,495.1 132.6,495.4 133.3,495.7 134,496 134.7,496.3 135.4,496.6 136.1,496.9 136.8,497.2 137.5,497.5 138.2,497.8 138.9,498 139.6,498.3 140.3,498.6 141,498.9 141.7,499.1 142.4,499.4 143.1,499.7 143.8,499.9 144.5,500.2 145.2,500.5 145.9,500.8 146.6,501 147.3,501.3 148,501.6 148.7,501.9 149.4,502.2 150.1,502.5 150.8,502.9 151.5,503.2 152.2,503.6 152.9,503.9 153.6,504.3 154.3,504.7 155,505.1 155.7,505.5 156.4,505.8 157.1,506.2 157.8,506.6 158.5,507 159.2,507.4 159.9,507.8 160.6,508.2 161.3,508.6 162,509 162.7,509.4 163.4,509.8 164.1,510.1 164.8,510.5 165.5,510.8 166.2,511.2 166.9,511.5 167.6,511.8 168.3,512.1 169,512.4 169.7,512.7 170.4,513 171.1,513.2 171.8,513.5 172.5,513.8 173.2,514 173.9,514.3 174.6,514.5 175.3,514.8 176,515 176.7,515.3 177.4,515.5 178.1,515.8 178.8,516 179.5,516.3 180.2,516.5 180.9,516.8 181.6,517.1 182.3,517.4 183,517.6 183.7,517.9 184.4,518.2 185.1,518.5 185.8,518.8 186.5,519.1 187.2,519.4 187.9,519.7 188.6,520 189.3,520.3 190,520.7 190.7,521 191.4,521.3 192.1,521.6 192.8,522 193.5,522.3 194.2,522.6 194.9,522.9 195.6,523.3 196.3,523.6 197,523.9 197.7,524.2 198.4,524.6 199.1,524.9 199.8,525.2 200.5,525.5 201.2,525.9 201.9,526.2 202.6,526.5 203.3,526.8 204,527.2 204.7,527.5 205.4,527.8 206.1,528.1 206.8,528.5 207.5,528.8 208.2,529.1 208.9,529.5 209.6,529.8 210.3,530.2 211,530.5 211.7,530.8 212.4,531.2 213.1,531.5 213.8,531.9 214.5,532.2 215.2,532.6 215.9,533 216.6,533.3 217.3,533.7 218,534.1 218.7,534.4 219.4,534.8 220.1,535.2 220.8,535.6 221.5,536 222.2,536.3 222.9,536.7 223.6,537.1 224.3,537.5 225,537.9 225.7,538.2 226.4,538.6 227.1,539 227.8,539.4 228.5,539.8 229.2,540.2 229.9,540.7 230.6,541.1 231.3,541.5 232,541.9 232.7,542.4 233.4,542.8 234.1,543.3 234.8,543.8 235.5,544.3 236.2,544.8 236.9,545.3 237.6,545.8 238.3,546.3 239,546.9 239.7,547.5 240.4,548.1 241.1,548.7 241.8,549.4 242.5,550 243.2,550.7 243.9,551.4 244.6,552.1 245.3,552.8 246,553.5 246.7,554.3 247.4,555 248.1,555.8 248.8,556.6 249.5,557.3 250.2,558.1 250.9,558.9 251.6,559.7 252.3,560.5 253,561.2 253.7,562.1 254.4,563 255.1,563.9 255.8,564.8 256.5,565.8 257.2,566.8 257.9,567.8 258.6,568.8 259.3,569.7 260,570.7 260.7,571.6 261.4,572.4 262.1,573.2 262.8,574 263.5,574.7 264.2,575.2 264.9,575.8 265.6,576.4 266.3,576.9 267,577.4 267.7,577.9 268.4,578.4 269.1,578.8 269.8,579.3 270.5,579.7 271.2,580.1 271.9,580.5 272.6,580.8 273.3,581.2 274,581.5 274.7,581.8 275.4,582.1 276.1,582.3 276.8,582.6 277.5,582.9 278.2,583.1 278.9,583.3 279.6,583.6 280.3,583.8 281,584 281.7,584.2 282.4,584.4 283.1,584.6 283.8,584.8 284.5,585 285.2,585.2 285.9,585.3 286.6,585.5 287.3,585.7 288,585.8 288.7,586 289.4,586.2 290.1,586.3 290.8,586.5 291.5,586.6 292.2,586.8 292.9,587 293.6,587.1 294.3,587.3 295,587.4 295.7,587.6 296.4,587.7 297.1,587.9 297.8,588 298.5,588.2 299.2,588.3 299.9,588.5 300.6,588.6 301.3,588.8 302,588.9 302.7,589 303.4,589.2 304.1,589.3 304.8,589.4 305.5,589.6 306.2,589.7 306.9,589.8 307.6,589.9 308.3,590 309,590.1 309.7,590.3 310.4,590.4 311.1,590.5 311.8,590.6 312.5,590.7 313.2,590.8 313.9,590.8 314.6,590.9 315.3,591 316,591.1 316.7,591.2 317.4,591.3 318.1,591.4 318.8,591.4 319.5,591.5 320.2,591.6 320.9,591.7 321.6,591.8 322.3,591.8 323,591.9 323.7,592 324.4,592 325.1,592.1 325.8,592.2 326.5,592.2 327.2,592.3 327.9,592.3 328.6,592.4 329.3,592.5 330,592.5 330.7,592.5 331.4,592.6" fill="none" stroke="#00ff00" stroke-width="3.2" stroke-linejoin="round" stroke-linecap="round" />
<polyline points="40.4,478.3 44.5,488.8 47.8,479.3 49.2,489.3 52.6,479.3 54,486.4 55.5,483.6 57,483.7 57.7,483.7 58.4,483.7 59.1,483.7 59.8,483.7 60.5,483.8 61.2,483.8 61.9,483.8 62.6,483.8 63.3,483.9 64,483.9 64.7,483.9 65.4,484 66.1,484 66.8,484 67.5,484.1 68.2,484.1 68.9,484.1 69.6,484.2 70.3,484.2 71,484.3 71.7,484.3 72.4,484.4 73.1,484.4 73.8,484.5 74.5,484.6 75.2,484.7 75.9,484.8 76.6,484.8 77.3,484.9 78,485 78.7,485 79.4,485.1 80.1,485.1 80.8,485.1 81.5,485.2 82.2,485.2 82.9,485.2 83.6,485.2 84.3,485.2 85,485.2 85.7,485.3 86.4,485.3 87.1,485.3 87.8,485.3 88.5,485.3 89.2,485.3 89.9,485.3 90.6,485.3 91.3,485.3 92,485.2 92.7,485.2 93.4,485.1 94.1,485 94.8,484.9 95.5,484.8 96.2,484.6 96.9,484.5 97.6,484.2 98.3,483.8 99,483.4 99.7,482.8 100.4,482.2 101.1,481.6 101.8,480.9 102.5,480.3 103.2,479.6 103.9,479 104.6,478.4 105.3,477.8 106,477.2 106.7,476.6 107.4,475.9 108.1,475.3 108.8,474.6 109.5,473.9 110.2,473.2 110.9,472.6 111.6,471.9 112.3,471.3 113,470.6 113.7,470 114.4,469.5 115.1,468.9 115.8,468.4 116.5,468 117.2,467.6 117.9,467.2 118.6,466.8 119.3,466.5 120,466.1 120.7,465.8 121.4,465.5 122.1,465.2 122.8,464.9 123.5,464.5 124.2,464.2 124.9,463.8 125.6,463.5 126.3,463 127,462.6 127.7,462.2 128.4,461.7 129.1,461.3 129.8,460.7 130.5,460.2 131.2,459.5 131.9,458.7 132.6,457.8 133.3,456.7 134,455.5 134.7,454.2 135.4,452.8 136.1,451.5 136.8,450.1 137.5,448.8 138.2,447.4 138.9,446 139.6,444.5 140.3,442.9 141,441.3 141.7,439.7 142.4,438.3 143.1,436.9 143.8,435.8 144.5,434.9 145.2,434.1 145.9,433.3 146.6,432.6 147.3,432.1 148,431.7 148.7,431.6 149.4,431.8 150.1,432.2 150.8,432.8 151.5,433.5 152.2,434.2 152.9,435 153.6,435.9 154.3,437.1 155,438.4 155.7,439.8 156.4,441.4 157.1,443 157.8,445 158.5,447.2 159.2,449.3 159.9,451.3 160.6,453.2 161.3,455.1 162,456.9 162.7,458.7 163.4,460.5 164.1,462.3 164.8,464.2 165.5,466.2 166.2,468.3 166.9,470.4 167.6,472.3 168.3,473.9 169,475.1 169.7,475.8 170.4,476.3 171.1,476.9 171.8,477.3 172.5,477.7 173.2,477.9 173.9,478.1 174.6,478.1 175.3,477.9 176,477.7 176.7,477.3 177.4,476.9 178.1,476.4 178.8,475.9 179.5,475.5 180.2,475.1 180.9,474.8 181.6,474.6 182.3,474.5 183,474.6 183.7,474.7 184.4,474.9 185.1,475.2 185.8,475.6 186.5,476 187.2,476.4 187.9,476.8 188.6,477.3 189.3,477.7 190,478.1 190.7,478.5 191.4,478.8 192.1,479.1 192.8,479.3 193.5,479.4 194.2,479.4 194.9,479.3 195.6,479.1 196.3,478.8 197,478.4 197.7,477.9 198.4,477.3 199.1,476.7 199.8,476.1 200.5,475.5 201.2,474.8 201.9,474.2 202.6,473.6 203.3,473 204,472.5 204.7,472 205.4,471.6 206.1,471.3 206.8,471.2 207.5,471.1 208.2,471.1 208.9,471.2 209.6,471.4 210.3,471.6 211,471.8 211.7,472.1 212.4,472.4 213.1,472.7 213.8,472.9 214.5,473.2 215.2,473.5 215.9,473.8 216.6,474 217.3,474.2 218,474.4 218.7,474.5 219.4,474.5 220.1,474.5 220.8,474.4 221.5,474.2 222.2,474 222.9,473.8 223.6,473.5 224.3,473.2 225,472.8 225.7,472.4 226.4,472 227.1,471.6 227.8,471.2 228.5,470.7 229.2,470 229.9,469.2 230.6,468.3 231.3,467.3 232,466.3 232.7,465.4 233.4,464.5 234.1,463.7 234.8,462.9 235.5,462 236.2,461.2 236.9,460.3 237.6,459.4 238.3,458.4 239,457.2 239.7,455.9 240.4,454.3 241.1,452.2 241.8,449.8 242.5,447.2 243.2,444.6 243.9,442 244.6,439.6 245.3,437.3 246,435 246.7,432.6 247.4,430.3 248.1,428.1 248.8,426 249.5,424.2 250.2,422.5 250.9,420.9 251.6,419.2 252.3,417.7 253,416.3 253.7,415.2 254.4,414.5 255.1,414.4 255.8,414.7 256.5,415.3 257.2,416.2 257.9,417.4 258.6,418.8 259.3,420.3 260,422 260.7,424.5 261.4,428.4 262.1,433.3 262.8,438.7 263.5,444.2 264.2,449.5 264.9,455.2 265.6,461.3 266.3,467.7 267,474.2 267.7,480.6 268.4,486.8 269.1,492.6 269.8,498 270.5,503.4 271.2,508.6 271.9,513.8 272.6,518.8 273.3,523.6 274,528.1 274.7,532.3 275.4,536.2 276.1,539.7 276.8,543.1 277.5,546.3 278.2,549.4 278.9,552.3 279.6,554.8 280.3,556.9 281,558.5 281.7,559.9 282.4,561.2 283.1,562.4 283.8,563.6 284.5,564.7 285.2,565.6 285.9,566.4 286.6,567.1 287.3,567.5 288,567.8 288.7,567.8 289.4,567.6 290.1,567.2 290.8,566.7 291.5,566.2 292.2,565.6 292.9,565.1 293.6,564.6 294.3,564.2 295,564 295.7,564 296.4,564.2 297.1,564.5 297.8,565 298.5,565.5 299.2,566.1 299.9,566.8 300.6,567.5 301.3,568.3 302,569 302.7,569.7 303.4,570.4 304.1,571.2 304.8,572 305.5,572.9 306.2,573.9 306.9,574.8 307.6,575.7 308.3,576.6 309,577.5 309.7,578.2 310.4,578.9 311.1,579.5 311.8,580 312.5,580.6 313.2,581.1 313.9,581.6 314.6,582.1 315.3,582.5 316,583 316.7,583.5 317.4,584 318.1,584.5 318.8,585 319.5,585.5 320.2,586 320.9,586.5 321.6,587 322.3,587.5 323,588 323.7,588.4 324.4,588.9 325.1,589.2 325.8,589.6 326.5,589.9 327.2,590.1 327.9,590.3 328.6,590.5 329.3,590.6 330,590.7 330.7,590.9 331.4,591 332.1,591.1 332.8,591.2 333.5,591.3 334.2,591.4 334.9,591.5 335.6,591.5 336.3,591.6 337,591.6" fill="none" stroke="#808000" stroke-width="3.4" stroke-linejoin="round" stroke-linecap="round" />
<polyline points="39.7,635.4 40.4,634.5 41.1,634.8 41.8,637.8 42.5,638.8 43.2,636.8 43.9,634.9 44.6,634.8 45.3,634.2 46,632.5 46.7,632.8 47.4,633.3 48.1,636 48.8,632.6 49.5,631.8 50.2,630.7 50.9,632.2 51.6,634.7 52.3,633.1 53,634.8 53.7,632.6 54.4,634.4 55.1,634.4 55.8,636 56.5,635.4 57.2,637.1 57.9,636 58.6,638.6 59.3,636.3 60,639.6 60.7,638.7 61.4,639.9 62.1,636.8 62.8,639.1 63.5,636.7 64.2,637.2 64.9,638.4 65.6,640 66.3,640.7 67,641.2 67.7,641.3 68.4,640 69.1,637.9 69.8,635.7 70.5,638.5 71.2,639.2 71.9,640.1 72.6,637.7 73.3,636.2 74,637.1 74.7,636.6 75.4,637.2 76.1,634.3 76.8,635.1 77.5,633.7 78.2,636.2 78.9,637.3 79.6,636.2 80.3,637.4 81,636.7 81.7,637.6 82.4,634.8 83.1,633.4 83.8,634.9 84.5,635.4 85.2,637.2 85.9,638.2 86.6,641.1 87.3,643.2 88,641.3 88.7,638.3 89.4,637.6 90.1,638.4 90.8,641.6 91.5,640.2 92.2,641.4 92.9,641.1 93.6,642.1 94.3,641.1 95,640.5 95.7,639.8 96.4,639.4 97.1,640.2 97.8,639.2 98.5,641.3 99.2,639.8 99.9,641.9 100.6,639.3 101.3,639.1 102,640.5 102.7,640.1 103.4,638.5 104.1,634.4 104.8,634.1 105.5,638.7 106.2,639.7 106.9,641.1 107.6,636.3 108.3,636.1 109,635.4 109.7,639 110.4,637.1 111.1,636.7 111.8,634.2 112.5,633.4 113.2,632.2 113.9,631 114.6,628.9 115.3,629.4 116,630.2 116.7,632.5 117.4,629.4 118.1,630.4 118.8,631 119.5,634 120.2,633.5 120.9,632 121.6,631.3 122.3,628.6 123,628.9 123.7,627.3 124.4,627.3 125.1,628.6 125.8,628.5 126.5,628 127.2,625.7 127.9,625.7 128.6,624.3 129.3,623.8 130,622.9 130.7,623.2 131.4,623.4 132.1,622.4 132.8,625.8 133.5,627.6 134.2,628.8 134.9,625.6 135.6,626.5 136.3,625.9 137,625.5 137.7,622.3 138.4,621.7 139.1,623.3 139.8,622.2 140.5,624.1 141.2,620.2 141.9,620.6 142.6,615.6 143.3,618.8 144,616.8 144.7,617.6 145.4,615.9 146.1,617.6 146.8,615.6 147.5,613.4 148.2,609.2 148.9,610.7 149.6,610.9 150.3,612.4 151,611.3 151.7,611.1 152.4,610.8 153.1,612.9 153.8,616 154.5,614.7 155.2,614.2 155.9,611.9 156.6,615.9 157.3,615.3 158,616.4 158.7,615.1 159.4,618.3 160.1,619.6 160.8,621.8 161.5,622.4 162.2,622.8 162.9,621.8 163.6,623.1 164.3,624.9 165,628 165.7,629.7 166.4,632.2 167.1,632 167.8,630.6 168.5,632 169.2,636.3 169.9,637 170.6,633.5 171.3,630.9 172,631.5 172.7,631.2 173.4,632.4 174.1,631.6 174.8,632.3 175.5,633.7 176.2,634.8 176.9,636.6 177.6,636.3 178.3,638.6 179,638.4 179.7,637.7 180.4,635.5 181.1,638.6 181.8,639.7 182.5,639.4 183.2,637.2 183.9,637.4 184.6,639.8 185.3,642.6 186,643.7 186.7,642.4 187.4,639.9 188.1,636.3 188.8,637.6 189.5,638.1 190.2,643.9 190.9,643.8 191.6,640.8 192.3,636.1 193,636.3 193.7,637.6 194.4,637.4 195.1,636.8 195.8,639.1 196.5,640.2 197.2,639.5 197.9,640.1 198.6,639.6 199.3,640.1 200,637 200.7,636.6 201.4,638.1 202.1,637.6 202.8,638.5 203.5,638.4 204.2,640 204.9,640.3 205.6,637.4 206.3,639.6 207,640.6 207.7,642.3 208.4,637.7 209.1,634.4 209.8,635.2 210.5,639.8 211.2,641.5 211.9,641.6 212.6,638.1 213.3,637.1 214,635.1 214.7,636.4 215.4,634.3 216.1,635.4 216.8,636.5 217.5,636.9 218.2,633.4 218.9,631.9 219.6,632.5 220.3,630.9 221,631.4 221.7,632.4 222.4,634.9 223.1,636.6 223.8,636.4 224.5,635.8 225.2,632.7 225.9,630.8 226.6,630.6 227.3,630.7 228,631 228.7,631 229.4,632.4 230.1,633.9 230.8,635.1 231.5,632.9 232.2,631.8 232.9,632 233.6,630.6 234.3,631.8 235,627.7 235.7,626.7 236.4,621.4 237.1,621.6 237.8,622 238.5,625.3 239.2,624.1 239.9,622.5 240.6,619.1 241.3,618.2 242,615.6 242.7,615.4 243.4,613.1 244.1,614.1 244.8,613.1 245.5,613.8 246.2,611.4 246.9,608.6 247.6,611.4 248.3,610.2 249,613.5 249.7,610.8 250.4,611.3 251.1,606.6 251.8,606.3 252.5,608.5 253.2,608 253.9,605.5 254.6,604.1 255.3,605.6 256,608.7 256.7,606.5 257.4,607.1 258.1,602.9 258.8,607.3 259.5,606.2 260.2,605.6 260.9,603.3 261.6,605.3 262.3,612.7 263,614.3 263.7,616.6 264.4,616.7 265.1,621.7 265.8,624 266.5,627.2 267.2,628.2 267.9,630.4 268.6,631.5 269.3,633.4 270,635.1 270.7,639.4 271.4,640 272.1,645.7 272.8,647.9 273.5,652.2 274.2,651.8 274.9,652.4 275.6,655.2 276.3,659.1 277,661.7 277.7,664.2 278.4,664.1 279.1,665.8 279.8,663.7 280.5,667.1 281.2,668.2 281.9,670.9 282.6,672.3 283.3,673.7 284,670.7 284.7,669.4 285.4,666.7 286.1,672.5 286.8,676.3 287.5,677.9 288.2,676.7 288.9,673.1 289.6,674.5 290.3,675.4 291,677.7 291.7,675.9 292.4,677.2 293.1,674.1 293.8,675.9 294.5,675.3 295.2,677.6 295.9,675.9 296.6,673.3 297.3,671.6 298,672.9 298.7,675.5 299.4,674.3 300.1,675.1 300.8,674.3 301.5,677.1 302.2,677.3 302.9,678.9 303.6,679.1 304.3,680.1 305,679.2 305.7,681.5 306.4,678.2 307.1,679.7 307.8,677.3 308.5,680.2 309.2,677.5 309.9,675.7 310.6,676 311.3,676.8 312,680.5 312.7,679.3 313.4,682.6 314.1,682.6 314.8,684.7 315.5,682 316.2,680.8 316.9,679.9 317.6,680.4 318.3,681.8 319,683.5 319.7,682.5 320.4,682.4 321.1,681.6 321.8,684.1 322.5,687.3 323.2,689.6 323.9,689.1 324.6,684.4 325.3,681.6 326,679.8 326.7,683.3 327.4,684.4 328.1,687 328.8,685.2 329.5,686.5 330.2,688.6 330.9,688.6 331.6,688.1 332.3,685.1 333,687.4 333.7,686.6 334.4,686.3 335.1,683.2 335.8,682.8 336.5,685.2" fill="none" stroke="#0000ff" stroke-width="3.3" stroke-linejoin="round" stroke-linecap="round" />
<polyline points="105.5,639.7 106.2,639.7 106.9,639.6 107.6,639.6 108.3,639.5 109,639.4 109.7,639.2 110.4,639.1 111.1,638.9 111.8,638.6 112.5,638.4 113.2,638 113.9,637.7 114.6,637.3 115.3,636.9 116,636.4 116.7,635.9 117.4,635.3 118.1,634.8 118.8,634.2 119.5,633.6 120.2,633 120.9,632.5 121.6,631.9 122.3,631.4 123,631 123.7,630.6 124.4,630.3 125.1,630.1 125.8,630 126.5,630 127.2,630.1 127.9,630.3 128.6,630.6 129.3,631 130,631.4 130.7,632 131.4,632.6 132.1,633.3 132.8,634 133.5,634.7 134.2,635.4 134.9,636.2 135.6,636.9 136.3,637.6 137,638.3 137.7,639 138.4,639.6 139.1,640.2 139.8,640.7 140.5,641.2 141.2,641.7 141.9,642.1 142.6,642.5 143.3,642.8 144,643.2 144.7,643.5 145.4,643.7 146.1,644 146.8,644.2 147.5,644.4" fill="none" stroke="#800000" stroke-width="3.0" stroke-linejoin="round" stroke-linecap="round" />
<polyline points="119.5,640.6 120.2,640.6 120.9,640.6 121.6,640.6 122.3,640.6 123,640.5 123.7,640.4 124.4,640.4 125.1,640.2 125.8,640.1 126.5,639.9 127.2,639.7 127.9,639.4 128.6,639.1 129.3,638.7 130,638.2 130.7,637.7 131.4,637.1 132.1,636.5 132.8,635.8 133.5,634.9 134.2,634.1 134.9,633.1 135.6,632 136.3,630.9 137,629.8 137.7,628.5 138.4,627.2 139.1,625.9 139.8,624.6 140.5,623.3 141.2,621.9 141.9,620.6 142.6,619.4 143.3,618.2 144,617 144.7,616 145.4,615.1 146.1,614.3 146.8,613.6 147.5,613.1 148.2,612.8 148.9,612.6 149.6,612.6 150.3,612.8 151,613.1 151.7,613.7 152.4,614.4 153.1,615.2 153.8,616.2 154.5,617.4 155.2,618.6 155.9,620 156.6,621.5 157.3,623 158,624.5 158.7,626.1 159.4,627.7 160.1,629.4 160.8,630.9 161.5,632.5 162.2,634 162.9,635.5 163.6,636.9 164.3,638.2 165,639.5 165.7,640.7 166.4,641.9 167.1,642.9 167.8,643.9 168.5,644.8 169.2,645.6 169.9,646.4 170.6,647.1 171.3,647.7 172,648.3 172.7,648.9 173.4,649.4 174.1,649.8 174.8,650.2 175.5,650.6 176.2,650.9 176.9,651.2 177.6,651.5 178.3,651.8 179,652.1 179.7,652.3" fill="none" stroke="#800000" stroke-width="3.0" stroke-linejoin="round" stroke-linecap="round" />
<polyline points="155.9,646.2 156.6,646.3 157.3,646.4 158,646.5 158.7,646.6 159.4,646.6 160.1,646.7 160.8,646.7 161.5,646.7 162.2,646.7 162.9,646.6 163.6,646.5 164.3,646.4 165,646.3 165.7,646.2 166.4,646 167.1,645.8 167.8,645.6 168.5,645.4 169.2,645.1 169.9,644.8 170.6,644.5 171.3,644.1 172,643.8 172.7,643.4 173.4,643.1 174.1,642.7 174.8,642.4 175.5,642 176.2,641.7 176.9,641.4 177.6,641.2 178.3,641 179,640.8 179.7,640.7 180.4,640.6 181.1,640.6 181.8,640.7 182.5,640.8 183.2,641 183.9,641.3 184.6,641.6 185.3,642 186,642.5 186.7,643 187.4,643.5 188.1,644.1 188.8,644.7 189.5,645.4 190.2,646.1 190.9,646.8 191.6,647.5 192.3,648.2 193,648.9 193.7,649.6 194.4,650.3 195.1,651 195.8,651.6 196.5,652.2 197.2,652.8 197.9,653.4 198.6,653.9 199.3,654.4 200,654.8 200.7,655.2 201.4,655.6 202.1,656 202.8,656.3 203.5,656.6 204.2,656.8 204.9,657 205.6,657.2 206.3,657.4 207,657.6 207.7,657.8 208.4,657.9 209.1,658 209.8,658.1" fill="none" stroke="#800000" stroke-width="3.0" stroke-linejoin="round" stroke-linecap="round" />
<polyline points="186,653.9 186.7,654 187.4,654.1 188.1,654.2 188.8,654.2 189.5,654.3 190.2,654.3 190.9,654.3 191.6,654.3 192.3,654.3 193,654.2 193.7,654.1 194.4,653.9 195.1,653.7 195.8,653.5 196.5,653.2 197.2,652.8 197.9,652.4 198.6,652 199.3,651.4 200,650.9 200.7,650.3 201.4,649.6 202.1,648.9 202.8,648.2 203.5,647.5 204.2,646.7 204.9,645.9 205.6,645.1 206.3,644.3 207,643.5 207.7,642.8 208.4,642.1 209.1,641.4 209.8,640.8 210.5,640.3 211.2,639.9 211.9,639.6 212.6,639.3 213.3,639.2 214,639.2 214.7,639.3 215.4,639.5 216.1,639.8 216.8,640.2 217.5,640.8 218.2,641.4 218.9,642.1 219.6,642.9 220.3,643.8 221,644.7 221.7,645.7 222.4,646.7 223.1,647.8 223.8,648.8 224.5,649.9 225.2,651 225.9,652 226.6,653.1 227.3,654.1 228,655.1 228.7,656 229.4,656.9 230.1,657.8 230.8,658.6 231.5,659.4 232.2,660.2 232.9,661 233.6,661.7 234.3,662.4 235,663 235.7,663.6 236.4,664.2 237.1,664.8 237.8,665.3 238.5,665.9 239.2,666.4 239.9,666.9 240.6,667.3 241.3,667.8 242,668.2 242.7,668.6" fill="none" stroke="#800000" stroke-width="3.0" stroke-linejoin="round" stroke-linecap="round" />
<polyline points="208.4,658 209.1,658 209.8,658 210.5,658 211.2,657.9 211.9,657.9 212.6,657.8 213.3,657.7 214,657.6 214.7,657.4 215.4,657.2 216.1,656.9 216.8,656.6 217.5,656.3 218.2,655.9 218.9,655.4 219.6,654.9 220.3,654.3 221,653.7 221.7,653 222.4,652.2 223.1,651.4 223.8,650.5 224.5,649.6 225.2,648.6 225.9,647.6 226.6,646.6 227.3,645.6 228,644.6 228.7,643.7 229.4,642.7 230.1,641.9 230.8,641.1 231.5,640.4 232.2,639.8 232.9,639.4 233.6,639.1 234.3,639 235,639.1 235.7,639.2 236.4,639.6 237.1,640.1 237.8,640.8 238.5,641.6 239.2,642.6 239.9,643.7 240.6,644.9 241.3,646.3 242,647.7 242.7,649.1 243.4,650.7 244.1,652.2 244.8,653.8 245.5,655.4 246.2,657 246.9,658.5 247.6,660.1 248.3,661.5 249,663 249.7,664.4 250.4,665.7 251.1,666.9 251.8,668.1 252.5,669.2 253.2,670.3 253.9,671.3 254.6,672.3 255.3,673.2 256,674 256.7,674.8 257.4,675.6 258.1,676.2 258.8,676.9 259.5,677.5 260.2,678 260.9,678.6 261.6,679 262.3,679.5 263,679.8 263.7,680.2" fill="none" stroke="#800000" stroke-width="3.0" stroke-linejoin="round" stroke-linecap="round" />
<polyline points="226.6,661.5 227.3,661.6 228,661.7 228.7,661.8 229.4,661.9 230.1,662 230.8,662 231.5,662 232.2,661.9 232.9,661.8 233.6,661.7 234.3,661.4 235,661.1 235.7,660.7 236.4,660.1 237.1,659.4 237.8,658.6 238.5,657.6 239.2,656.4 239.9,655.1 240.6,653.6 241.3,651.9 242,650 242.7,647.9 243.4,645.7 244.1,643.3 244.8,640.8 245.5,638.1 246.2,635.4 246.9,632.6 247.6,629.9 248.3,627.1 249,624.4 249.7,621.8 250.4,619.4 251.1,617.2 251.8,615.2 252.5,613.5 253.2,612.2 253.9,611.2 254.6,610.7 255.3,610.5 256,610.7 256.7,611.4 257.4,612.4 258.1,613.9 258.8,615.7 259.5,617.8 260.2,620.3 260.9,623 261.6,626 262.3,629.1 263,632.4 263.7,635.8 264.4,639.2 265.1,642.7 265.8,646.1 266.5,649.5 267.2,652.8 267.9,655.9 268.6,658.9 269.3,661.8 270,664.5 270.7,666.9 271.4,669.2 272.1,671.3 272.8,673.2 273.5,674.8 274.2,676.3 274.9,677.6 275.6,678.8 276.3,679.8 277,680.7 277.7,681.5 278.4,682.2 279.1,682.7 279.8,683.2 280.5,683.7 281.2,684 281.9,684.3 282.6,684.6 283.3,684.8 284,685 284.7,685.2 285.4,685.3" fill="none" stroke="#800000" stroke-width="3.0" stroke-linejoin="round" stroke-linecap="round" />
<polyline points="274.9,684 275.6,684 276.3,684.1 277,684.1 277.7,684.1 278.4,684.1 279.1,684.1 279.8,684 280.5,684 281.2,683.8 281.9,683.7 282.6,683.5 283.3,683.3 284,683.1 284.7,682.9 285.4,682.6 286.1,682.3 286.8,681.9 287.5,681.6 288.2,681.2 288.9,680.9 289.6,680.5 290.3,680.2 291,679.9 291.7,679.6 292.4,679.3 293.1,679.1 293.8,678.9 294.5,678.7 295.2,678.7 295.9,678.6 296.6,678.7 297.3,678.8 298,678.9 298.7,679.2 299.4,679.4 300.1,679.7 300.8,680.1 301.5,680.5 302.2,680.9 302.9,681.4 303.6,681.9 304.3,682.3 305,682.8 305.7,683.3 306.4,683.8 307.1,684.2 307.8,684.6 308.5,685.1 309.2,685.4 309.9,685.8 310.6,686.1 311.3,686.4 312,686.7 312.7,686.9 313.4,687.1 314.1,687.3 314.8,687.5 315.5,687.6 316.2,687.8 316.9,687.9 317.6,688 318.3,688.1" fill="none" stroke="#800000" stroke-width="3.0" stroke-linejoin="round" stroke-linecap="round" />
<polyline points="53,638.8 53.7,638.8 54.4,638.8 55.1,638.8 55.8,638.8 56.5,638.9 57.2,638.9 57.9,638.9 58.6,638.9 59.3,638.9 60,638.9 60.7,638.9 61.4,638.9 62.1,638.9 62.8,639 63.5,639 64.2,639 64.9,639 65.6,639 66.3,639 67,639 67.7,639 68.4,639.1 69.1,639.1 69.8,639.1 70.5,639.1 71.2,639.1 71.9,639.1 72.6,639.1 73.3,639.2 74,639.2 74.7,639.2 75.4,639.2 76.1,639.2 76.8,639.2 77.5,639.2 78.2,639.3 78.9,639.3 79.6,639.3 80.3,639.3 81,639.3 81.7,639.3 82.4,639.4 83.1,639.4 83.8,639.4 84.5,639.4 85.2,639.4 85.9,639.4 86.6,639.4 87.3,639.5 88,639.5 88.7,639.5 89.4,639.5 90.1,639.5 90.8,639.5 91.5,639.5 92.2,639.6 92.9,639.6 93.6,639.6 94.3,639.6 95,639.6 95.7,639.6 96.4,639.7 97.1,639.7 97.8,639.7 98.5,639.7 99.2,639.7 99.9,639.7 100.6,639.8 101.3,639.8 102,639.8 102.7,639.8 103.4,639.9 104.1,639.9 104.8,639.9 105.5,639.9 106.2,639.9 106.9,640 107.6,640 108.3,640 109,640.1 109.7,640.1 110.4,640.1 111.1,640.2 111.8,640.2 112.5,640.2 113.2,640.3 113.9,640.3 114.6,640.4 115.3,640.4 116,640.5 116.7,640.5 117.4,640.6 118.1,640.6 118.8,640.7 119.5,640.8 120.2,640.8 120.9,640.9 121.6,641 122.3,641 123,641.1 123.7,641.2 124.4,641.3 125.1,641.4 125.8,641.4 126.5,641.5 127.2,641.6 127.9,641.7 128.6,641.8 129.3,641.9 130,641.9 130.7,642 131.4,642.1 132.1,642.2 132.8,642.3 133.5,642.4 134.2,642.5 134.9,642.6 135.6,642.7 136.3,642.8 137,642.9 137.7,643 138.4,643.1 139.1,643.2 139.8,643.3 140.5,643.4 141.2,643.5 141.9,643.6 142.6,643.7 143.3,643.9 144,644 144.7,644.1 145.4,644.3 146.1,644.4 146.8,644.5 147.5,644.7 148.2,644.8 148.9,644.9 149.6,645.1 150.3,645.2 151,645.4 151.7,645.5 152.4,645.7 153.1,645.8 153.8,646 154.5,646.1 155.2,646.3 155.9,646.5 156.6,646.6 157.3,646.8 158,646.9 158.7,647.1 159.4,647.2 160.1,647.4 160.8,647.6 161.5,647.7 162.2,647.9 162.9,648.1 163.6,648.2 164.3,648.4 165,648.6 165.7,648.7 166.4,648.9 167.1,649.1 167.8,649.3 168.5,649.5 169.2,649.7 169.9,649.9 170.6,650.1 171.3,650.3 172,650.4 172.7,650.6 173.4,650.8 174.1,651 174.8,651.2 175.5,651.4 176.2,651.6 176.9,651.8 177.6,652 178.3,652.2 179,652.4 179.7,652.5 180.4,652.7 181.1,652.9 181.8,653 182.5,653.2 183.2,653.4 183.9,653.6 184.6,653.7 185.3,653.9 186,654.1 186.7,654.3 187.4,654.4 188.1,654.6 188.8,654.8 189.5,654.9 190.2,655.1 190.9,655.3 191.6,655.4 192.3,655.6 193,655.7 193.7,655.9 194.4,656.1 195.1,656.2 195.8,656.3 196.5,656.5 197.2,656.6 197.9,656.8 198.6,656.9 199.3,657 200,657.1 200.7,657.3 201.4,657.4 202.1,657.5 202.8,657.6 203.5,657.7 204.2,657.7 204.9,657.8 205.6,657.9 206.3,658 207,658.1 207.7,658.1 208.4,658.2 209.1,658.3 209.8,658.4 210.5,658.4 211.2,658.5 211.9,658.6 212.6,658.7 213.3,658.8 214,658.9 214.7,659 215.4,659.1 216.1,659.2 216.8,659.3 217.5,659.4 218.2,659.6 218.9,659.7 219.6,659.9 220.3,660 221,660.2 221.7,660.4 222.4,660.5 223.1,660.7 223.8,660.9 224.5,661.1 225.2,661.3 225.9,661.5 226.6,661.7 227.3,661.9 228,662.1 228.7,662.4 229.4,662.6 230.1,662.8 230.8,663.1 231.5,663.3 232.2,663.6 232.9,663.9 233.6,664.2 234.3,664.6 235,664.9 235.7,665.2 236.4,665.6 237.1,665.9 237.8,666.3 238.5,666.7 239.2,667 239.9,667.4 240.6,667.8 241.3,668.1 242,668.5 242.7,668.8 243.4,669.2 244.1,669.6 244.8,669.9 245.5,670.3 246.2,670.6 246.9,671 247.6,671.4 248.3,671.8 249,672.1 249.7,672.5 250.4,672.9 251.1,673.3 251.8,673.7 252.5,674.1 253.2,674.5 253.9,674.9 254.6,675.3 255.3,675.8 256,676.2 256.7,676.7 257.4,677.1 258.1,677.5 258.8,677.9 259.5,678.4 260.2,678.7 260.9,679.1 261.6,679.5 262.3,679.8 263,680.1 263.7,680.4 264.4,680.7 265.1,681 265.8,681.3 266.5,681.6 267.2,681.9 267.9,682.2 268.6,682.4 269.3,682.7 270,682.9 270.7,683.2 271.4,683.4 272.1,683.6 272.8,683.7 273.5,683.9 274.2,684 274.9,684.2 275.6,684.3 276.3,684.4 277,684.5 277.7,684.6 278.4,684.7 279.1,684.8 279.8,684.9 280.5,685 281.2,685.1 281.9,685.2 282.6,685.3 283.3,685.3 284,685.4 284.7,685.5 285.4,685.6 286.1,685.6 286.8,685.7 287.5,685.8 288.2,685.9 288.9,685.9 289.6,686 290.3,686.1 291,686.1 291.7,686.2 292.4,686.3 293.1,686.3 293.8,686.4 294.5,686.5 295.2,686.5 295.9,686.6 296.6,686.7 297.3,686.7 298,686.8 298.7,686.9 299.4,686.9 300.1,687 300.8,687.1 301.5,687.1 302.2,687.2 302.9,687.3 303.6,687.3 304.3,687.4 305,687.4 305.7,687.5 306.4,687.5 307.1,687.6 307.8,687.7 308.5,687.7 309.2,687.7 309.9,687.8 310.6,687.8 311.3,687.9 312,687.9 312.7,688 313.4,688 314.1,688 314.8,688.1 315.5,688.1 316.2,688.2 316.9,688.2 317.6,688.2 318.3,688.3 319,688.3 319.7,688.3 320.4,688.4 321.1,688.4 321.8,688.4 322.5,688.5 323.2,688.5 323.9,688.5 324.6,688.6 325.3,688.6 326,688.6 326.7,688.6 327.4,688.7 328.1,688.7 328.8,688.7 329.5,688.7 330.2,688.7 330.9,688.8 331.6,688.8 332.3,688.8" fill="none" stroke="#808080" stroke-width="3.2" stroke-linejoin="round" stroke-linecap="round" />
<polyline points="53,636.9 53.7,637 54.4,637.1 55.1,637.1 55.8,637.2 56.5,637.3 57.2,637.4 57.9,637.4 58.6,637.5 59.3,637.6 60,637.7 60.7,637.7 61.4,637.8 62.1,637.9 62.8,637.9 63.5,638 64.2,638.1 64.9,638.1 65.6,638.2 66.3,638.2 67,638.3 67.7,638.4 68.4,638.4 69.1,638.5 69.8,638.5 70.5,638.5 71.2,638.6 71.9,638.6 72.6,638.6 73.3,638.7 74,638.7 74.7,638.7 75.4,638.7 76.1,638.8 76.8,638.8 77.5,638.8 78.2,638.8 78.9,638.8 79.6,638.9 80.3,638.9 81,638.9 81.7,638.9 82.4,638.9 83.1,639 83.8,639 84.5,639 85.2,639 85.9,639 86.6,639 87.3,639.1 88,639.1 88.7,639.1 89.4,639.1 90.1,639.1 90.8,639.1 91.5,639.1 92.2,639.1 92.9,639.1 93.6,639.2 94.3,639.2 95,639.2 95.7,639.2 96.4,639.2 97.1,639.2 97.8,639.2 98.5,639.2 99.2,639.2 99.9,639.2 100.6,639.2 101.3,639.2 102,639.1 102.7,639 103.4,638.8 104.1,638.6 104.8,638.4 105.5,638.1 106.2,637.8 106.9,637.4 107.6,637.1 108.3,636.7 109,636.4 109.7,636 110.4,635.6 111.1,635.2 111.8,634.9 112.5,634.5 113.2,634.2 113.9,633.9 114.6,633.6 115.3,633.2 116,632.9 116.7,632.5 117.4,632.2 118.1,631.8 118.8,631.4 119.5,631 120.2,630.7 120.9,630.3 121.6,629.9 122.3,629.6 123,629.2 123.7,628.8 124.4,628.5 125.1,628.1 125.8,627.8 126.5,627.4 127.2,627.1 127.9,626.8 128.6,626.5 129.3,626.2 130,626 130.7,625.7 131.4,625.5 132.1,625.2 132.8,625 133.5,624.7 134.2,624.4 134.9,624.1 135.6,623.8 136.3,623.4 137,623 137.7,622.5 138.4,622 139.1,621.4 139.8,620.8 140.5,620.2 141.2,619.5 141.9,618.9 142.6,618.2 143.3,617.7 144,617.1 144.7,616.6 145.4,616.1 146.1,615.6 146.8,615.1 147.5,614.7 148.2,614.2 148.9,614 149.6,613.8 150.3,613.8 151,613.9 151.7,614.1 152.4,614.4 153.1,614.8 153.8,615.1 154.5,615.6 155.2,616 155.9,616.4 156.6,616.9 157.3,617.6 158,618.3 158.7,619.1 159.4,620 160.1,621 160.8,621.9 161.5,622.9 162.2,623.9 162.9,624.8 163.6,625.8 164.3,626.8 165,628 165.7,629.2 166.4,630.3 167.1,631.5 167.8,632.5 168.5,633.5 169.2,634.2 169.9,634.8 170.6,635.2 171.3,635.5 172,635.8 172.7,636.1 173.4,636.3 174.1,636.6 174.8,636.8 175.5,637 176.2,637.2 176.9,637.3 177.6,637.5 178.3,637.6 179,637.8 179.7,637.9 180.4,638.1 181.1,638.3 181.8,638.4 182.5,638.6 183.2,638.8 183.9,639 184.6,639.1 185.3,639.3 186,639.5 186.7,639.7 187.4,639.8 188.1,640 188.8,640.2 189.5,640.3 190.2,640.5 190.9,640.6 191.6,640.8 192.3,640.9 193,641 193.7,641.1 194.4,641.2 195.1,641.3 195.8,641.4 196.5,641.4 197.2,641.5 197.9,641.5 198.6,641.5 199.3,641.5 200,641.4 200.7,641.4 201.4,641.3 202.1,641.1 202.8,641 203.5,640.8 204.2,640.6 204.9,640.4 205.6,640.2 206.3,640 207,639.8 207.7,639.5 208.4,639.3 209.1,639 209.8,638.7 210.5,638.5 211.2,638.2 211.9,638 212.6,637.7 213.3,637.5 214,637.3 214.7,637 215.4,636.8 216.1,636.6 216.8,636.4 217.5,636.3 218.2,636.1 218.9,636 219.6,635.8 220.3,635.7 221,635.5 221.7,635.4 222.4,635.2 223.1,635 223.8,634.9 224.5,634.7 225.2,634.5 225.9,634.2 226.6,634 227.3,633.7 228,633.3 228.7,632.9 229.4,632.5 230.1,631.9 230.8,631.4 231.5,630.8 232.2,630.2 232.9,629.5 233.6,628.9 234.3,628.2 235,627.5 235.7,626.8 236.4,626.1 237.1,625.4 237.8,624.7 238.5,624 239.2,623.2 239.9,622.4 240.6,621.6 241.3,620.7 242,619.9 242.7,619 243.4,618.1 244.1,617.3 244.8,616.4 245.5,615.6 246.2,614.7 246.9,613.9 247.6,613.1 248.3,612.4 249,611.6 249.7,610.7 250.4,609.8 251.1,608.9 251.8,608 252.5,607.2 253.2,606.4 253.9,605.8 254.6,605.3 255.3,605 256,604.9 256.7,605 257.4,605.3 258.1,605.8 258.8,606.3 259.5,607 260.2,607.8 260.9,608.7 261.6,609.8 262.3,611.4 263,613.3 263.7,615.3 264.4,617.4 265.1,619.6 265.8,622 266.5,624.5 267.2,627.1 267.9,629.6 268.6,632.1 269.3,634.6 270,637.2 270.7,639.9 271.4,642.6 272.1,645.2 272.8,647.8 273.5,650.3 274.2,652.7 274.9,654.9 275.6,656.9 276.3,658.7 277,660.5 277.7,662.3 278.4,664.1 279.1,665.8 279.8,667.4 280.5,668.9 281.2,670.1 281.9,671.2 282.6,672.1 283.3,672.6 284,673 284.7,673.4 285.4,673.7 286.1,674 286.8,674.3 287.5,674.6 288.2,674.8 288.9,675 289.6,675.2 290.3,675.4 291,675.5 291.7,675.6 292.4,675.6 293.1,675.6 293.8,675.6 294.5,675.6 295.2,675.6 295.9,675.6 296.6,675.6 297.3,675.6 298,675.6 298.7,675.6 299.4,675.6 300.1,675.6 300.8,675.6 301.5,675.7 302.2,676 302.9,676.3 303.6,676.6 304.3,677 305,677.5 305.7,678 306.4,678.5 307.1,679 307.8,679.6 308.5,680.1 309.2,680.6 309.9,681.1 310.6,681.6 311.3,681.9 312,682.3 312.7,682.6 313.4,683 314.1,683.3 314.8,683.6 315.5,684 316.2,684.3 316.9,684.6 317.6,684.9 318.3,685.2 319,685.5 319.7,685.8 320.4,686 321.1,686.3 321.8,686.5 322.5,686.7 323.2,686.9 323.9,687.1 324.6,687.2 325.3,687.4 326,687.6 326.7,687.7 327.4,687.9 328.1,688 328.8,688.2 329.5,688.3 330.2,688.4 330.9,688.5 331.6,688.6 332.3,688.7" fill="none" stroke="#ff8000" stroke-width="3.4" stroke-linejoin="round" stroke-linecap="round" />
</g>
<rect x="26" y="379" width="409.2" height="324.5" fill="none" stroke="#000" stroke-width="3"/>
<line x1="41.2" y1="703.5" x2="41.2" y2="711" stroke="#000" stroke-width="3" stroke-linecap="butt"/>
<line x1="120" y1="703.5" x2="120" y2="711" stroke="#000" stroke-width="3" stroke-linecap="butt"/>
<line x1="198.8" y1="703.5" x2="198.8" y2="711" stroke="#000" stroke-width="3" stroke-linecap="butt"/>
<line x1="277.5" y1="703.5" x2="277.5" y2="711" stroke="#000" stroke-width="3" stroke-linecap="butt"/>
<line x1="356.3" y1="703.5" x2="356.3" y2="711" stroke="#000" stroke-width="3" stroke-linecap="butt"/>
<line x1="435.1" y1="703.5" x2="435.1" y2="711" stroke="#000" stroke-width="3" stroke-linecap="butt"/>
<line x1="80.6" y1="703.5" x2="80.6" y2="708.5" stroke="#000" stroke-width="3" stroke-linecap="butt"/>
<line x1="159.4" y1="703.5" x2="159.4" y2="708.5" stroke="#000" stroke-width="3" stroke-linecap="butt"/>
<line x1="238.1" y1="703.5" x2="238.1" y2="708.5" stroke="#000" stroke-width="3" stroke-linecap="butt"/>
<line x1="316.9" y1="703.5" x2="316.9" y2="708.5" stroke="#000" stroke-width="3" stroke-linecap="butt"/>
<line x1="395.7" y1="703.5" x2="395.7" y2="708.5" stroke="#000" stroke-width="3" stroke-linecap="butt"/>
<text x="0" y="0" font-family='"Liberation Sans", sans-serif' font-size="15" font-weight="bold" fill="#000" text-anchor="middle"  transform="translate(41.2 728) scale(1 1.1)">740</text>
<text x="0" y="0" font-family='"Liberation Sans", sans-serif' font-size="15" font-weight="bold" fill="#000" text-anchor="middle"  transform="translate(120 728) scale(1 1.1)">730</text>
<text x="0" y="0" font-family='"Liberation Sans", sans-serif' font-size="15" font-weight="bold" fill="#000" text-anchor="middle"  transform="translate(198.8 728) scale(1 1.1)">720</text>
<text x="0" y="0" font-family='"Liberation Sans", sans-serif' font-size="15" font-weight="bold" fill="#000" text-anchor="middle"  transform="translate(277.5 728) scale(1 1.1)">710</text>
<text x="0" y="0" font-family='"Liberation Sans", sans-serif' font-size="15" font-weight="bold" fill="#000" text-anchor="middle"  transform="translate(356.3 728) scale(1 1.1)">700</text>
<text x="0" y="0" font-family='"Liberation Sans", sans-serif' font-size="15" font-weight="bold" fill="#000" text-anchor="middle"  transform="translate(435.1 728) scale(1 1.1)">690</text>
<text x="0" y="0" font-family='"Liberation Sans", sans-serif' font-size="15.2" font-weight="bold" fill="#000" text-anchor="middle"  transform="translate(245.5 757.3) scale(1 1.07)" textLength="138.4" lengthAdjust="spacingAndGlyphs">Binding Energy, eV</text>
<rect x="42.4" y="388" width="32.8" height="36.3" fill="#9a9a9a" filter="url(#blur)"/>
<rect x="41.9" y="386" width="32.8" height="36.3" fill="#d7d7d7"/>
<text x="0" y="0" font-family='"Liberation Serif", serif' font-size="24" font-weight="bold" fill="#000" text-anchor="middle"  transform="translate(56.3 413.4) scale(0.95 1.06)">C</text>
<rect x="138.5" y="390.9" width="88.4" height="29.6" fill="#9a9a9a" filter="url(#blur)"/>
<rect x="138" y="388.9" width="88.4" height="29.6" fill="#d9e1f2"/>
<text x="0" y="0" font-family='"Liberation Serif", serif' font-size="19.3" font-weight="bold" fill="#ff0000" text-anchor="start" filter="url(#tsh)" transform="translate(143.8 410.5) scale(1 1.07)" textLength="71.8" lengthAdjust="spacingAndGlyphs">FeNiP-R</text>
<rect x="50.3" y="587.5" width="88.5" height="29.3" fill="#9a9a9a" filter="url(#blur)"/>
<rect x="49.8" y="585.5" width="88.5" height="29.3" fill="#d9e1f2"/>
<text x="0" y="0" font-family='"Liberation Serif", serif' font-size="19.3" font-weight="bold" fill="#ff0000" text-anchor="start" filter="url(#tsh)" transform="translate(55.6 606.8) scale(1 1.07)" textLength="67.8" lengthAdjust="spacingAndGlyphs">FeNiP-S</text>
<g clip-path="url(#clipC)">
<line x1="272.2" y1="397" x2="307" y2="397" stroke="#000" stroke-width="3.5" stroke-linecap="round"/>
<text x="0" y="0" font-family='"Liberation Sans", sans-serif' font-size="14.4" font-weight="bold" fill="#000" text-anchor="start"  transform="translate(310.4 402) scale(1 1.07)" textLength="120.2" lengthAdjust="spacingAndGlyphs">Experimental data</text>
<line x1="272.2" y1="417.7" x2="307" y2="417.7" stroke="#ff0000" stroke-width="3.5" stroke-linecap="round"/>
<text x="0" y="0" font-family='"Liberation Sans", sans-serif' font-size="14.4" font-weight="bold" fill="#ff0000" text-anchor="start"  transform="translate(310.4 422.7) scale(1 1.07)" textLength="75" lengthAdjust="spacingAndGlyphs">Peak fitting</text>
<line x1="272.2" y1="438" x2="307" y2="438" stroke="#00ff00" stroke-width="3.5" stroke-linecap="round"/>
<text x="0" y="0" font-family='"Liberation Sans", sans-serif' font-size="14.4" font-weight="bold" fill="#00ff00" text-anchor="start"  transform="translate(310.4 443.2) scale(1 1.07)" textLength="125.5" lengthAdjust="spacingAndGlyphs">Background data</text>
<line x1="272.2" y1="458.6" x2="307" y2="458.6" stroke="#808000" stroke-width="3.5" stroke-linecap="round"/>
<text x="0" y="0" font-family='"Liberation Sans", sans-serif' font-size="14.4" font-weight="bold" fill="#808000" text-anchor="start"  transform="translate(310.4 463.7) scale(1 1.07)" textLength="70.3" lengthAdjust="spacingAndGlyphs">Peak Sum</text>
<line x1="272.2" y1="479" x2="307" y2="479" stroke="#0000ff" stroke-width="3.5" stroke-linecap="round"/>
<text x="0" y="0" font-family='"Liberation Sans", sans-serif' font-size="14.4" font-weight="bold" fill="#0000ff" text-anchor="start"  transform="translate(310.4 484.5) scale(1 1.07)" textLength="120.2" lengthAdjust="spacingAndGlyphs">Experimental data</text>
<line x1="272.2" y1="499.4" x2="307" y2="499.4" stroke="#800000" stroke-width="3.5" stroke-linecap="round"/>
<text x="0" y="0" font-family='"Liberation Sans", sans-serif' font-size="14.4" font-weight="bold" fill="#800000" text-anchor="start"  transform="translate(310.4 505) scale(1 1.07)" textLength="75" lengthAdjust="spacingAndGlyphs">Peak fitting</text>
<line x1="272.2" y1="520.2" x2="307" y2="520.2" stroke="#808080" stroke-width="3.5" stroke-linecap="round"/>
<text x="0" y="0" font-family='"Liberation Sans", sans-serif' font-size="14.4" font-weight="bold" fill="#808080" text-anchor="start"  transform="translate(310.4 525.6) scale(1 1.07)" textLength="125.5" lengthAdjust="spacingAndGlyphs">Background data</text>
<line x1="272.2" y1="540.7" x2="307" y2="540.7" stroke="#ff8000" stroke-width="3.5" stroke-linecap="round"/>
<text x="0" y="0" font-family='"Liberation Sans", sans-serif' font-size="14.4" font-weight="bold" fill="#ff8000" text-anchor="start"  transform="translate(310.4 546.3) scale(1 1.07)" textLength="70.3" lengthAdjust="spacingAndGlyphs">Peak Sum</text>
</g>
<polyline points="484.4,538.6 485.2,537.9 486,537.9 486.8,537.5 487.6,537.4 488.4,537.5 489.2,538.3 490,537.8 490.8,538.1 491.6,537.6 492.4,538.1 493.2,538.1 494,538.3 494.8,538.5 495.6,538.7 496.4,538.6 497.2,537.9 498,538.3 498.8,538.9 499.6,539.9 500.4,539.8 501.2,538.5 502,538.2 502.8,537.6 503.6,537.9 504.4,538.3 505.2,538.3 506,538.5 506.8,537.6 507.6,537.8 508.4,537.9 509.2,538.4 510,538.2 510.8,538.8 511.6,538.7 512.4,538.6 513.2,537.7 514,538.6 514.8,539.7 515.6,540.1 516.4,539.5 517.2,538.6 518,538.9 518.8,538.9 519.6,539.5 520.4,539.7 521.2,540 522,539.8 522.8,539.6 523.6,540.1 524.4,539.6 525.2,539.8 526,539.1 526.8,539.3 527.6,538.9 528.4,539 529.2,539 530,538.4 530.8,538.2 531.6,539.1 532.4,540.3 533.2,540.9 534,540.8 534.8,540 535.6,539.8 536.4,539.5 537.2,539.4 538,539.1 538.8,539 539.6,539.3 540.4,539.3 541.2,539.5 542,539.5 542.8,540.2 543.6,540.1 544.4,540.2 545.2,539.9 546,539.9 546.8,539.8 547.6,539.6 548.4,540 549.2,540.4 550,541 550.8,540.2 551.6,539.9 552.4,539.4 553.2,540 554,540.1 554.8,540 555.6,540.3 556.4,540.5 557.2,540.3 558,540.5 558.8,540.8 559.6,541.1 560.4,540.9 561.2,540.4 562,541 562.8,540.7 563.6,540.7 564.4,540.2 565.2,540 566,540.4 566.8,540.6 567.6,540.9 568.4,540.7 569.2,539.4 570,539.5 570.8,539.1 571.6,540.4 572.4,540.8 573.2,541.5 574,541.4 574.8,540.9 575.6,540.8 576.4,540.8 577.2,540.7 578,540.5 578.8,541.1 579.6,541.3 580.4,542 581.2,541.5 582,541.6 582.8,541.2 583.6,541.5 584.4,541.8 585.2,541.9 586,541.6 586.8,541.1 587.6,541.6 588.4,541.7 589.2,541.9 590,541.9 590.8,542.3 591.6,542.6 592.4,542 593.2,542.5 594,542.5 594.8,542.8 595.6,542 596.4,541.4 597.2,540.8 598,541 598.8,541.6 599.6,542 600.4,541.5 601.2,540.9 602,540.8 602.8,540.8 603.6,541.6 604.4,542.1 605.2,543.5 606,543.5 606.8,543 607.6,541.7 608.4,540.3 609.2,540.3 610,540.6 610.8,542.1 611.6,542.5 612.4,542.7 613.2,542.5 614,542.5 614.8,542.8 615.6,542.4 616.4,542.1 617.2,541.1 618,542 618.8,542.6 619.6,543.4 620.4,542.4 621.2,542.1 622,541.7 622.8,542.2 623.6,542.1 624.4,542.3 625.2,542.2 626,542.5 626.8,542.5 627.6,542.5 628.4,542.2 629.2,542 630,542.3 630.8,542.3 631.6,542.5 632.4,542.1 633.2,541.7 634,542 634.8,541.7 635.6,542.5 636.4,542.3 637.2,542.1 638,541.6 638.8,541.3 639.6,541.5 640.4,541.5 641.2,541.9 642,542.1 642.8,542.6 643.6,542.2 644.4,542.4 645.2,542 646,542.1 646.8,542.2 647.6,542.5 648.4,542.3 649.2,541.8 650,541.8 650.8,542.1 651.6,542.3 652.4,542 653.2,542.1 654,543 654.8,543.1 655.6,543 656.4,542.3 657.2,541.6 658,541.5 658.8,541.1 659.6,542.4 660.4,542.3 661.2,542.2 662,541.7 662.8,541.8 663.6,541.9 664.4,541.9 665.2,541.4 666,541.5 666.8,541.7 667.6,542.8 668.4,543.1 669.2,542.9 670,542.6 670.8,542.7 671.6,543.1 672.4,543 673.2,542.6 674,542.1 674.8,541.7 675.6,541.7 676.4,541.6 677.2,541.1 678,540.2 678.8,539.8 679.6,539.2 680.4,539.8 681.2,539.8 682,539.7 682.8,539.7 683.6,539.6 684.4,539.9 685.2,539.8 686,539.8 686.8,538.9 687.6,538.2 688.4,537.3 689.2,537.4 690,536.9 690.8,536 691.6,535.2 692.4,534.1 693.2,533.5 694,533.1 694.8,532.3 695.6,531.6 696.4,531.2 697.2,531 698,530.8 698.8,529.2 699.6,528.2 700.4,527.1 701.2,527 702,526.2 702.8,525.8 703.6,524.9 704.4,524.1 705.2,522.7 706,521.8 706.8,520.5 707.6,519.6 708.4,518.2 709.2,517.1 710,515.3 710.8,513.9 711.6,512.7 712.4,511.6 713.2,510 714,508.3 714.8,506.4 715.6,504.9 716.4,502.8 717.2,500.1 718,498.2 718.8,496.2 719.6,494.3 720.4,491.5 721.2,488.7 722,487.2 722.8,484.7 723.6,481.6 724.4,478.2 725.2,475 726,473.2 726.8,469.7 727.6,466 728.4,462.2 729.2,459.2 730,456.5 730.8,452.3 731.6,448.9 732.4,445.7 733.2,441.7 734,437.9 734.8,433.1 735.6,430.4 736.4,425.9 737.2,421.6 738,417.1 738.8,413.5 739.6,410.4 740.4,407.8 741.2,405.3 742,403.4 742.8,402.7 743.6,401.8 744.4,402 745.2,402.8 746,403.8 746.8,404.8 747.6,405.7 748.4,407.3 749.2,409.3 750,411.6 750.8,413.8 751.6,416.6 752.4,419.6 753.2,422.8 754,426.5 754.8,429.9 755.6,434.8 756.4,440 757.2,445.8 758,450.5 758.8,455.8 759.6,461.1 760.4,467.3 761.2,472.4 762,476.9 762.8,481.2 763.6,485.5 764.4,489.4 765.2,493.1 766,496.4 766.8,500.1 767.6,503.3 768.4,506.5 769.2,509.7 770,512.4 770.8,515.6 771.6,518.4 772.4,520.4 773.2,522.4 774,523.7 774.8,525.7 775.6,527 776.4,528.6 777.2,530.6 778,531.6 778.8,532.1 779.6,532.7 780.4,533.3 781.2,534.5 782,533.8 782.8,535 783.6,536.1 784.4,538.1 785.2,538.7 786,539.6 786.8,539.9 787.6,540.5 788.4,540.1 789.2,540.5 790,541 790.8,541.8 791.6,541.8 792.4,541.9 793.2,542.1 794,542.5 794.8,542.9 795.6,543.1 796.4,543.1 797.2,542.8 798,543.8 798.8,544 799.6,544.7 800.4,544.5 801.2,545.4 802,545.1 802.8,544.9 803.6,544.9 804.4,545.7 805.2,545.7 806,545.3 806.8,545.5 807.6,546.2 808.4,546.8 809.2,546.3 810,546.1 810.8,546.1 811.6,546.7 812.4,546.2 813.2,546.2 814,546 814.8,546.1 815.6,546.1 816.4,546.2 817.2,546.5 818,546.6 818.8,546.2 819.6,546.3 820.4,546.4 821.2,547 822,547.4 822.8,546.8 823.6,546.3 824.4,546 825.2,546.6 826,547.8 826.8,548 827.6,547.5 828.4,547.1 829.2,546.6 830,546.4 830.8,547.1 831.6,547.5 832.4,548.2 833.2,547.5 834,548 834.8,547.9 835.6,548.1 836.4,547.2 837.2,546.6 838,546.7 838.8,547.5 839.6,548.1 840.4,547.7 841.2,547.3 842,546.9 842.8,547.3 843.6,547.5 844.4,547.9 845.2,547.5 846,547.6 846.8,547.6 847.6,547.7 848.4,547 849.2,547 850,547.4 850.8,547.7 851.6,547.4 852.4,547 853.2,547.5 854,547.7 854.8,546.9 855.6,546.7 856.4,546.1 857.2,546.4 858,546.4 858.8,546.7 859.6,547.2 860.4,548.1 861.2,548.4 862,548.4 862.8,547 863.6,546.6 864.4,545.9 865.2,546.1 866,545.9 866.8,546 867.6,546.1 868.4,546.1 869.2,545.9 870,545.5 870.8,546 871.6,546.4 872.4,547.2 873.2,547.4 874,547.3" fill="none" stroke="#000" stroke-width="3.3" stroke-linejoin="round" stroke-linecap="round" />
<polyline points="613.9,542.4 614.7,542.4 615.5,542.4 616.3,542.4 617.1,542.4 617.9,542.4 618.7,542.4 619.5,542.4 620.3,542.4 621.1,542.4 621.9,542.4 622.7,542.4 623.5,542.4 624.3,542.4 625.1,542.4 625.9,542.4 626.7,542.4 627.5,542.4 628.3,542.4 629.1,542.4 629.9,542.4 630.7,542.4 631.5,542.4 632.3,542.4 633.1,542.4 633.9,542.4 634.7,542.4 635.5,542.4 636.3,542.4 637.1,542.4 637.9,542.4 638.7,542.4 639.5,542.4 640.3,542.4 641.1,542.4 641.9,542.4 642.7,542.4 643.5,542.4 644.3,542.4 645.1,542.4 645.9,542.4 646.7,542.4 647.5,542.4 648.3,542.4 649.1,542.4 649.9,542.4 650.7,542.4 651.5,542.4 652.3,542.4 653.1,542.4 653.9,542.4 654.7,542.4 655.5,542.4 656.3,542.4 657.1,542.4 657.9,542.4 658.7,542.4 659.5,542.4 660.3,542.4 661.1,542.5 661.9,542.5 662.7,542.5 663.5,542.5 664.3,542.5 665.1,542.5 665.9,542.5 666.7,542.5 667.5,542.5 668.3,542.5 669.1,542.5 669.9,542.5 670.7,542.5 671.5,542.5 672.3,542.5 673.1,542.5 673.9,542.5 674.7,542.5 675.5,542.5 676.3,542.5 677.1,542.5 677.9,542.5 678.7,542.5 679.5,542.5 680.3,542.5 681.1,542.5 681.9,542.5 682.7,542.5 683.5,542.5 684.3,542.5 685.1,542.5 685.9,542.5 686.7,542.5 687.5,542.5 688.3,542.6 689.1,542.6 689.9,542.6 690.7,542.6 691.5,542.6 692.3,542.6 693.1,542.6 693.9,542.6 694.7,542.6 695.5,542.6 696.3,542.7 697.1,542.7 697.9,542.7 698.7,542.7 699.5,542.7 700.3,542.7 701.1,542.7 701.9,542.7 702.7,542.7 703.5,542.8 704.3,542.8 705.1,542.8 705.9,542.8 706.7,542.8 707.5,542.8 708.3,542.8 709.1,542.8 709.9,542.9 710.7,542.9 711.5,542.9 712.3,542.9 713.1,542.9 713.9,542.9 714.7,543 715.5,543 716.3,543 717.1,543 717.9,543 718.7,543.1 719.5,543.1 720.3,543.1 721.1,543.1 721.9,543.1 722.7,543.1 723.5,543.2 724.3,543.2 725.1,543.2 725.9,543.2 726.7,543.2 727.5,543.3 728.3,543.3 729.1,543.3 729.9,543.3 730.7,543.4 731.5,543.4 732.3,543.4 733.1,543.4 733.9,543.4 734.7,543.5 735.5,543.5 736.3,543.5 737.1,543.5 737.9,543.5 738.7,543.6 739.5,543.6 740.3,543.6 741.1,543.6 741.9,543.7 742.7,543.7 743.5,543.7 744.3,543.7 745.1,543.7 745.9,543.8 746.7,543.8 747.5,543.8 748.3,543.8 749.1,543.9 749.9,543.9 750.7,543.9 751.5,544 752.3,544 753.1,544 753.9,544 754.7,544.1 755.5,544.1 756.3,544.1 757.1,544.2 757.9,544.2 758.7,544.2 759.5,544.2 760.3,544.3 761.1,544.3 761.9,544.3 762.7,544.3 763.5,544.4 764.3,544.4 765.1,544.4 765.9,544.5 766.7,544.5 767.5,544.5 768.3,544.5 769.1,544.6 769.9,544.6 770.7,544.6 771.5,544.6 772.3,544.7 773.1,544.7 773.9,544.7 774.7,544.7 775.5,544.8 776.3,544.8 777.1,544.8 777.9,544.8 778.7,544.9 779.5,544.9 780.3,544.9 781.1,544.9 781.9,545 782.7,545 783.5,545 784.3,545 785.1,545 785.9,545.1 786.7,545.1 787.5,545.1 788.3,545.1 789.1,545.2 789.9,545.2 790.7,545.2 791.5,545.2 792.3,545.3 793.1,545.3 793.9,545.3 794.7,545.4 795.5,545.4 796.3,545.4 797.1,545.5 797.9,545.5 798.7,545.5 799.5,545.6 800.3,545.6 801.1,545.7 801.9,545.7 802.7,545.8 803.5,545.8 804.3,545.9 805.1,545.9 805.9,546" fill="none" stroke="#00ff00" stroke-width="3.2" stroke-linejoin="round" stroke-linecap="round" />
<polyline points="686.7,542.2 687.5,542.1 688.3,542 689.1,541.9 689.9,541.8 690.7,541.6 691.5,541.4 692.3,541.2 693.1,541 693.9,540.6 694.7,540.3 695.5,539.9 696.3,539.4 697.1,538.8 697.9,538.2 698.7,537.5 699.5,536.7 700.3,535.8 701.1,534.9 701.9,533.8 702.7,532.6 703.5,531.4 704.3,530 705.1,528.6 705.9,527 706.7,525.4 707.5,523.6 708.3,521.8 709.1,520 709.9,518.1 710.7,516.1 711.5,514.2 712.3,512.3 713.1,510.3 713.9,508.5 714.7,506.7 715.5,505 716.3,503.4 717.1,501.9 717.9,500.6 718.7,499.4 719.5,498.4 720.3,497.7 721.1,497.1 721.9,496.8 722.7,496.6 723.5,496.7 724.3,496.9 725.1,497.2 725.9,497.5 726.7,498 727.5,498.6 728.3,499.3 729.1,500.1 729.9,500.9 730.7,501.9 731.5,502.9 732.3,504 733.1,505.1 733.9,506.4 734.7,507.6 735.5,508.9 736.3,510.2 737.1,511.6 737.9,513 738.7,514.3 739.5,515.7 740.3,517.1 741.1,518.5 741.9,519.9 742.7,521.2 743.5,522.5 744.3,523.8 745.1,525.1 745.9,526.3 746.7,527.5 747.5,528.7 748.3,529.8 749.1,530.8 749.9,531.8 750.7,532.8 751.5,533.7 752.3,534.6 753.1,535.4 753.9,536.2 754.7,536.9 755.5,537.6 756.3,538.2 757.1,538.8 757.9,539.3 758.7,539.8 759.5,540.3 760.3,540.7 761.1,541.1 761.9,541.5 762.7,541.8 763.5,542.2 764.3,542.4 765.1,542.7 765.9,542.9 766.7,543.1 767.5,543.3 768.3,543.5 769.1,543.7 769.9,543.8 770.7,543.9 771.5,544.1 772.3,544.2 773.1,544.3 773.9,544.3 774.7,544.4" fill="none" stroke="#ff0000" stroke-width="3.0" stroke-linejoin="round" stroke-linecap="round" />
<polyline points="708.3,542.5 709.1,542.5 709.9,542.4 710.7,542.2 711.5,542.1 712.3,541.9 713.1,541.6 713.9,541.4 714.7,541 715.5,540.6 716.3,540 717.1,539.4 717.9,538.7 718.7,537.9 719.5,536.9 720.3,535.8 721.1,534.5 721.9,533.1 722.7,531.5 723.5,529.7 724.3,527.8 725.1,525.7 725.9,523.4 726.7,521 727.5,518.4 728.3,515.7 729.1,512.9 729.9,510 730.7,507.1 731.5,504.2 732.3,501.2 733.1,498.4 733.9,495.7 734.7,493.1 735.5,490.8 736.3,488.6 737.1,486.8 737.9,485.2 738.7,484 739.5,483.2 740.3,482.7 741.1,482.6 741.9,483 742.7,483.7 743.5,484.7 744.3,486.1 745.1,487.9 745.9,489.9 746.7,492.2 747.5,494.8 748.3,497.5 749.1,500.3 749.9,503.2 750.7,506.2 751.5,509.2 752.3,512.1 753.1,515 753.9,517.8 754.7,520.5 755.5,523.1 756.3,525.5 757.1,527.7 757.9,529.8 758.7,531.7 759.5,533.4 760.3,535 761.1,536.4 761.9,537.6 762.7,538.7 763.5,539.6 764.3,540.5 765.1,541.2 765.9,541.8 766.7,542.3 767.5,542.7 768.3,543.1 769.1,543.4 769.9,543.7 770.7,543.9 771.5,544.1 772.3,544.2 773.1,544.4" fill="none" stroke="#ff0000" stroke-width="3.0" stroke-linejoin="round" stroke-linecap="round" />
<polyline points="718.7,542.7 719.5,542.7 720.3,542.6 721.1,542.5 721.9,542.3 722.7,542.1 723.5,541.9 724.3,541.6 725.1,541.2 725.9,540.7 726.7,540.2 727.5,539.6 728.3,538.9 729.1,538 729.9,537 730.7,535.9 731.5,534.6 732.3,533.2 733.1,531.6 733.9,529.9 734.7,528 735.5,525.9 736.3,523.7 737.1,521.3 737.9,518.8 738.7,516.3 739.5,513.6 740.3,510.9 741.1,508.2 741.9,505.6 742.7,503 743.5,500.5 744.3,498.1 745.1,496 745.9,494 746.7,492.4 747.5,491 748.3,490 749.1,489.3 749.9,488.9 750.7,489 751.5,489.4 752.3,490.1 753.1,491.2 753.9,492.6 754.7,494.3 755.5,496.3 756.3,498.5 757.1,500.9 757.9,503.5 758.7,506.1 759.5,508.8 760.3,511.6 761.1,514.3 761.9,517 762.7,519.6 763.5,522.2 764.3,524.6 765.1,526.8 765.9,529 766.7,530.9 767.5,532.7 768.3,534.4 769.1,535.8 769.9,537.2 770.7,538.3 771.5,539.4 772.3,540.2 773.1,541 773.9,541.7 774.7,542.3 775.5,542.8 776.3,543.2 777.1,543.5 777.9,543.8 778.7,544 779.5,544.2 780.3,544.4 781.1,544.5 781.9,544.6" fill="none" stroke="#ff0000" stroke-width="3.0" stroke-linejoin="round" stroke-linecap="round" />
<polyline points="709.9,542.5 710.7,542.5 711.5,542.4 712.3,542.4 713.1,542.3 713.9,542.3 714.7,542.2 715.5,542.1 716.3,542 717.1,541.9 717.9,541.8 718.7,541.7 719.5,541.5 720.3,541.4 721.1,541.2 721.9,541 722.7,540.8 723.5,540.5 724.3,540.3 725.1,540 725.9,539.7 726.7,539.4 727.5,539.1 728.3,538.7 729.1,538.3 729.9,537.9 730.7,537.5 731.5,537.1 732.3,536.6 733.1,536.2 733.9,535.7 734.7,535.2 735.5,534.6 736.3,534.1 737.1,533.6 737.9,533 738.7,532.5 739.5,531.9 740.3,531.4 741.1,530.8 741.9,530.3 742.7,529.7 743.5,529.2 744.3,528.7 745.1,528.2 745.9,527.8 746.7,527.4 747.5,527 748.3,526.6 749.1,526.3 749.9,526 750.7,525.7 751.5,525.5 752.3,525.3 753.1,525.2 753.9,525.1 754.7,525.1 755.5,525.1 756.3,525.2 757.1,525.3 757.9,525.4 758.7,525.6 759.5,525.9 760.3,526.2 761.1,526.5 761.9,526.9 762.7,527.3 763.5,527.7 764.3,528.2 765.1,528.7 765.9,529.2 766.7,529.7 767.5,530.3 768.3,530.9 769.1,531.5 769.9,532.1 770.7,532.7 771.5,533.3 772.3,533.9 773.1,534.5 773.9,535.1 774.7,535.6 775.5,536.2 776.3,536.8 777.1,537.3 777.9,537.8 778.7,538.3 779.5,538.8 780.3,539.3 781.1,539.8 781.9,540.2 782.7,540.6 783.5,541 784.3,541.3 785.1,541.7 785.9,542 786.7,542.3 787.5,542.6 788.3,542.9 789.1,543.1 789.9,543.4 790.7,543.6 791.5,543.8 792.3,544 793.1,544.1 793.9,544.3 794.7,544.5 795.5,544.6 796.3,544.7 797.1,544.8 797.9,545 798.7,545.1 799.5,545.2 800.3,545.3 801.1,545.3" fill="none" stroke="#ff0000" stroke-width="3.0" stroke-linejoin="round" stroke-linecap="round" />
<polyline points="757.1,543.8 757.9,543.7 758.7,543.6 759.5,543.4 760.3,543.3 761.1,543 761.9,542.8 762.7,542.5 763.5,542.1 764.3,541.7 765.1,541.3 765.9,540.8 766.7,540.3 767.5,539.8 768.3,539.2 769.1,538.7 769.9,538.1 770.7,537.6 771.5,537.1 772.3,536.7 773.1,536.3 773.9,536.1 774.7,535.9 775.5,535.8 776.3,535.8 777.1,535.9 777.9,536.1 778.7,536.4 779.5,536.8 780.3,537.3 781.1,537.8 781.9,538.3 782.7,538.9 783.5,539.5 784.3,540.1 785.1,540.7 785.9,541.3 786.7,541.8 787.5,542.3 788.3,542.8 789.1,543.2 789.9,543.6 790.7,543.9 791.5,544.2 792.3,544.4 793.1,544.6 793.9,544.8 794.7,545 795.5,545.1" fill="none" stroke="#ff0000" stroke-width="3.0" stroke-linejoin="round" stroke-linecap="round" />
<polyline points="613.9,542.2 614.7,542.2 615.5,542.2 616.3,542.2 617.1,542.2 617.9,542.2 618.7,542.2 619.5,542.2 620.3,542.2 621.1,542.2 621.9,542.2 622.7,542.1 623.5,542.1 624.3,542.1 625.1,542.1 625.9,542.1 626.7,542.1 627.5,542.1 628.3,542.1 629.1,542.1 629.9,542.1 630.7,542.1 631.5,542.1 632.3,542.1 633.1,542.1 633.9,542.1 634.7,542 635.5,542 636.3,542 637.1,542 637.9,542 638.7,542 639.5,542 640.3,542 641.1,542 641.9,542 642.7,542 643.5,542 644.3,542 645.1,542 645.9,541.9 646.7,541.9 647.5,541.9 648.3,541.9 649.1,541.9 649.9,541.9 650.7,541.9 651.5,541.9 652.3,541.9 653.1,541.9 653.9,541.9 654.7,541.9 655.5,541.9 656.3,541.9 657.1,541.8 657.9,541.8 658.7,541.8 659.5,541.8 660.3,541.8 661.1,541.8 661.9,541.8 662.7,541.8 663.5,541.7 664.3,541.7 665.1,541.7 665.9,541.7 666.7,541.7 667.5,541.7 668.3,541.6 669.1,541.6 669.9,541.6 670.7,541.6 671.5,541.5 672.3,541.5 673.1,541.4 673.9,541.3 674.7,541.2 675.5,541.1 676.3,541 677.1,540.9 677.9,540.8 678.7,540.6 679.5,540.5 680.3,540.3 681.1,540.1 681.9,539.9 682.7,539.6 683.5,539.3 684.3,538.9 685.1,538.5 685.9,538.1 686.7,537.7 687.5,537.3 688.3,536.8 689.1,536.3 689.9,535.9 690.7,535.4 691.5,534.9 692.3,534.4 693.1,533.8 693.9,533.2 694.7,532.6 695.5,532 696.3,531.4 697.1,530.7 697.9,530 698.7,529.3 699.5,528.5 700.3,527.7 701.1,526.9 701.9,526.1 702.7,525.2 703.5,524.2 704.3,523.2 705.1,522.1 705.9,521 706.7,519.8 707.5,518.5 708.3,517.2 709.1,515.8 709.9,514.4 710.7,513 711.5,511.5 712.3,510 713.1,508.5 713.9,506.9 714.7,505.2 715.5,503.4 716.3,501.6 717.1,499.6 717.9,497.6 718.7,495.5 719.5,493.4 720.3,491 721.1,488.5 721.9,485.8 722.7,483.1 723.5,480.2 724.3,477.3 725.1,474.4 725.9,471.5 726.7,468.5 727.5,465.4 728.3,462.2 729.1,458.9 729.9,455.6 730.7,452.1 731.5,448.3 732.3,444.4 733.1,440.3 733.9,436.2 734.7,432.2 735.5,428.1 736.3,423.7 737.1,419.4 737.9,415.4 738.7,411.9 739.5,409.1 740.3,406.7 741.1,404.7 741.9,403.4 742.7,402.2 743.5,401.4 744.3,401.4 745.1,401.9 745.9,402.8 746.7,403.7 747.5,404.7 748.3,405.9 749.1,407.3 749.9,408.8 750.7,410.6 751.5,412.7 752.3,415.2 753.1,418.3 753.9,421.6 754.7,425.3 755.5,429.2 756.3,433.3 757.1,438.1 757.9,443.6 758.7,449.1 759.5,454.5 760.3,460.1 761.1,465.6 761.9,470.9 762.7,475.6 763.5,479.9 764.3,483.9 765.1,487.8 765.9,491.5 766.7,495.1 767.5,498.7 768.3,502.3 769.1,505.7 769.9,508.9 770.7,511.9 771.5,514.4 772.3,516.6 773.1,518.7 773.9,520.6 774.7,522.5 775.5,524.2 776.3,525.8 777.1,527.3 777.9,528.7 778.7,530 779.5,531.1 780.3,532.1 781.1,533 781.9,533.9 782.7,534.7 783.5,535.6 784.3,536.4 785.1,537.1 785.9,537.8 786.7,538.5 787.5,539.1 788.3,539.7 789.1,540.2 789.9,540.7 790.7,541.2 791.5,541.6 792.3,541.9 793.1,542.2 793.9,542.5 794.7,542.8 795.5,543.1 796.3,543.4 797.1,543.6 797.9,543.9 798.7,544.1 799.5,544.3 800.3,544.5 801.1,544.7 801.9,544.8 802.7,545 803.5,545.1 804.3,545.2 805.1,545.3 805.9,545.4 806.7,545.5 807.5,545.6 808.3,545.7 809.1,545.7 809.9,545.8 810.7,545.9 811.5,545.9 812.3,546 813.1,546.1 813.9,546.1 814.7,546.2 815.5,546.2 816.3,546.2 817.1,546.3 817.9,546.3 818.7,546.4 819.5,546.4 820.3,546.4 821.1,546.4 821.9,546.5 822.7,546.5 823.5,546.5 824.3,546.5 825.1,546.6 825.9,546.6 826.7,546.6 827.5,546.6 828.3,546.6 829.1,546.6 829.9,546.7 830.7,546.7 831.5,546.7 832.3,546.7 833.1,546.7 833.9,546.7 834.7,546.7" fill="none" stroke="#808000" stroke-width="3.6" stroke-linejoin="round" stroke-linecap="round" />
<polyline points="484.8,668.6 485.6,668.8 486.4,669.3 487.2,668.2 488,667.9 488.8,667.4 489.6,667.6 490.4,667.7 491.2,668.5 492,668.6 492.8,668.7 493.6,668.4 494.4,668.7 495.2,668.2 496,668.3 496.8,668.4 497.6,668.3 498.4,669.3 499.2,669 500,670 500.8,669 501.6,669.5 502.4,668.4 503.2,668.4 504,668.3 504.8,669 505.6,669 506.4,669.4 507.2,668.9 508,669.5 508.8,669.2 509.6,669.7 510.4,669.1 511.2,669.6 512,669.6 512.8,670.1 513.6,669.2 514.4,668.5 515.2,668.2 516,668.8 516.8,669.3 517.6,669.4 518.4,669 519.2,669.7 520,670 520.8,670.1 521.6,670 522.4,670.3 523.2,670.6 524,669.9 524.8,669.3 525.6,668.9 526.4,668.9 527.2,669.4 528,670 528.8,670.4 529.6,670.6 530.4,670.5 531.2,670 532,669.2 532.8,669 533.6,669.1 534.4,669.6 535.2,669.7 536,669.7 536.8,669.5 537.6,669.6 538.4,670.1 539.2,670.3 540,670.5 540.8,670.4 541.6,670.3 542.4,670.2 543.2,671 544,671.1 544.8,671.5 545.6,671.4 546.4,672.2 547.2,671.5 548,671.7 548.8,671.3 549.6,671.5 550.4,670.8 551.2,671 552,671.1 552.8,671.1 553.6,671.4 554.4,671.2 555.2,670.9 556,670.7 556.8,671.3 557.6,672 558.4,671.4 559.2,671.6 560,671.4 560.8,672.4 561.6,671.6 562.4,671.5 563.2,670.9 564,670.8 564.8,670.5 565.6,671 566.4,671.4 567.2,671.4 568,671.4 568.8,671.9 569.6,672.5 570.4,672 571.2,671.6 572,671.7 572.8,671.8 573.6,671.5 574.4,671.5 575.2,672.3 576,672.2 576.8,671 577.6,670 578.4,670.1 579.2,671 580,671.7 580.8,672 581.6,671.9 582.4,671.7 583.2,671.5 584,671.7 584.8,671.5 585.6,672.8 586.4,673.1 587.2,673 588,671.8 588.8,671.4 589.6,671.1 590.4,671.2 591.2,671.1 592,672 592.8,672.1 593.6,672.1 594.4,671.4 595.2,671.1 596,671.4 596.8,671.8 597.6,672.6 598.4,672.4 599.2,672.8 600,672.5 600.8,672.8 601.6,671.7 602.4,671.2 603.2,671.4 604,672.6 604.8,673.1 605.6,673.1 606.4,672.5 607.2,672.3 608,671.8 608.8,672.3 609.6,672.5 610.4,672.7 611.2,672.2 612,672.3 612.8,672.5 613.6,672.3 614.4,672.7 615.2,672.7 616,673 616.8,672.9 617.6,673.2 618.4,673.1 619.2,672.8 620,672.1 620.8,671.9 621.6,670.9 622.4,671.7 623.2,671.3 624,672.3 624.8,671.6 625.6,671.9 626.4,671.6 627.2,672 628,672.5 628.8,673.2 629.6,673.2 630.4,673.3 631.2,672.5 632,672.6 632.8,672.4 633.6,672.4 634.4,672.2 635.2,672.1 636,672.3 636.8,672.5 637.6,672.3 638.4,672 639.2,672.1 640,671.7 640.8,671.8 641.6,672 642.4,671.7 643.2,671.7 644,671.4 644.8,671.7 645.6,672.9 646.4,671.7 647.2,672.8 648,672.4 648.8,673.7 649.6,673.1 650.4,672.7 651.2,672 652,672.4 652.8,671.8 653.6,672 654.4,672.1 655.2,672.1 656,672 656.8,671.7 657.6,671.6 658.4,672.1 659.2,672.1 660,672.1 660.8,671.6 661.6,671.2 662.4,671.4 663.2,671.4 664,671.4 664.8,671.9 665.6,671.6 666.4,672.2 667.2,671.8 668,672.3 668.8,671.7 669.6,671.5 670.4,670.7 671.2,671 672,671.3 672.8,672.3 673.6,672.4 674.4,672 675.2,671 676,670.6 676.8,670.3 677.6,670.7 678.4,670.7 679.2,670.2 680,669.3 680.8,669.3 681.6,669.5 682.4,669.4 683.2,669.1 684,668.7 684.8,668.4 685.6,667.6 686.4,666.8 687.2,666.9 688,666.3 688.8,666.4 689.6,665.5 690.4,665.7 691.2,665.4 692,665.1 692.8,663.6 693.6,663 694.4,661.8 695.2,661.9 696,661.4 696.8,661.2 697.6,661.1 698.4,660.4 699.2,659.8 700,658.4 700.8,657.3 701.6,656.5 702.4,656 703.2,654.7 704,653.8 704.8,652.6 705.6,652.3 706.4,651 707.2,649.3 708,647.4 708.8,646.6 709.6,645.9 710.4,644.5 711.2,642.6 712,641 712.8,639.3 713.6,636.9 714.4,634.9 715.2,634 716,633 716.8,631.6 717.6,629.6 718.4,627.8 719.2,625 720,622.6 720.8,619.9 721.6,617.9 722.4,615.5 723.2,613.4 724,611.2 724.8,608.3 725.6,605.4 726.4,603.5 727.2,600.7 728,597.4 728.8,593.7 729.6,591.1 730.4,588.5 731.2,584.7 732,581.5 732.8,577.8 733.6,574.3 734.4,570.1 735.2,566.7 736,564 736.8,561.6 737.6,559.5 738.4,557.9 739.2,556.3 740,555.6 740.8,554.3 741.6,553.2 742.4,552.8 743.2,552.5 744,552.7 744.8,552.4 745.6,552.9 746.4,553.2 747.2,554.3 748,554.2 748.8,555.5 749.6,557 750.4,559.3 751.2,560.5 752,561.9 752.8,564.7 753.6,566.9 754.4,569.4 755.2,571.7 756,575.4 756.8,578.7 757.6,582.4 758.4,586 759.2,590.1 760,593.9 760.8,598 761.6,602 762.4,606.3 763.2,610.2 764,614.7 764.8,618.4 765.6,621.9 766.4,625.1 767.2,628.2 768,632 768.8,634.6 769.6,637.8 770.4,640.3 771.2,642.8 772,645.3 772.8,648.5 773.6,650.3 774.4,652.5 775.2,653.9 776,656 776.8,657 777.6,659 778.4,660.6 779.2,663.2 780,663.8 780.8,665.2 781.6,665.8 782.4,666.8 783.2,668.2 784,669 784.8,669.6 785.6,670 786.4,670.9 787.2,671.6 788,671.6 788.8,671.3 789.6,671.5 790.4,672 791.2,672.4 792,672.2 792.8,672.6 793.6,673.2 794.4,674.1 795.2,674.4 796,675.2 796.8,675 797.6,676.2 798.4,676 799.2,676.3 800,675.1 800.8,673.8 801.6,673.7 802.4,674 803.2,675.7 804,675.3 804.8,676 805.6,675.3 806.4,676.1 807.2,674.6 808,674.7 808.8,674.4 809.6,675.5 810.4,675.5 811.2,675.3 812,675.4 812.8,675.6 813.6,676.2 814.4,676.2 815.2,676.4 816,676.2 816.8,675.4 817.6,674.5 818.4,675 819.2,675.7 820,676.2 820.8,675.6 821.6,675.4 822.4,675.4 823.2,675.4 824,675.2 824.8,675.9 825.6,676.1 826.4,676.1 827.2,675 828,674.6 828.8,675.1 829.6,675.8 830.4,676 831.2,675.8 832,675.4 832.8,675.1 833.6,675.6 834.4,675.8 835.2,677.1 836,676.4 836.8,676.2 837.6,675.7 838.4,675.9 839.2,675.5 840,674.9 840.8,675.1 841.6,675.7 842.4,676.1 843.2,676.4 844,676.7 844.8,676.9 845.6,676.6 846.4,676.2 847.2,676.3 848,676.7 848.8,676.8 849.6,676.8 850.4,676.4 851.2,675.9 852,675.5 852.8,675.9 853.6,676.5 854.4,677.5 855.2,677.2 856,677.4 856.8,677.3 857.6,677.6 858.4,677.1 859.2,676.6 860,676.3 860.8,676.2 861.6,676.5 862.4,676.8 863.2,677 864,677.5 864.8,677.1 865.6,677.2 866.4,676.4 867.2,676.3 868,676.5 868.8,676.6 869.6,677.4 870.4,677.5 871.2,677.7 872,677 872.8,676.3 873.6,676.1" fill="none" stroke="#0000ff" stroke-width="3.3" stroke-linejoin="round" stroke-linecap="round" />
<polyline points="622.2,672.6 623,672.6 623.8,672.6 624.6,672.6 625.4,672.6 626.2,672.6 627,672.6 627.8,672.6 628.6,672.6 629.4,672.6 630.2,672.6 631,672.6 631.8,672.6 632.6,672.6 633.4,672.6 634.2,672.6 635,672.6 635.8,672.6 636.6,672.6 637.4,672.6 638.2,672.6 639,672.6 639.8,672.6 640.6,672.6 641.4,672.6 642.2,672.6 643,672.6 643.8,672.6 644.6,672.6 645.4,672.6 646.2,672.6 647,672.6 647.8,672.6 648.6,672.6 649.4,672.6 650.2,672.6 651,672.6 651.8,672.6 652.6,672.6 653.4,672.6 654.2,672.6 655,672.6 655.8,672.7 656.6,672.7 657.4,672.7 658.2,672.7 659,672.7 659.8,672.7 660.6,672.7 661.4,672.7 662.2,672.7 663,672.7 663.8,672.7 664.6,672.7 665.4,672.7 666.2,672.7 667,672.7 667.8,672.7 668.6,672.7 669.4,672.7 670.2,672.7 671,672.7 671.8,672.7 672.6,672.7 673.4,672.7 674.2,672.7 675,672.7 675.8,672.7 676.6,672.7 677.4,672.7 678.2,672.7 679,672.7 679.8,672.7 680.6,672.7 681.4,672.8 682.2,672.8 683,672.8 683.8,672.8 684.6,672.8 685.4,672.8 686.2,672.8 687,672.8 687.8,672.8 688.6,672.8 689.4,672.8 690.2,672.8 691,672.8 691.8,672.8 692.6,672.8 693.4,672.8 694.2,672.8 695,672.9 695.8,672.9 696.6,672.9 697.4,672.9 698.2,672.9 699,673 699.8,673 700.6,673 701.4,673 702.2,673.1 703,673.1 703.8,673.1 704.6,673.2 705.4,673.2 706.2,673.2 707,673.3 707.8,673.3 708.6,673.3 709.4,673.4 710.2,673.4 711,673.4 711.8,673.5 712.6,673.5 713.4,673.5 714.2,673.6 715,673.6 715.8,673.7 716.6,673.7 717.4,673.7 718.2,673.8 719,673.8 719.8,673.9 720.6,673.9 721.4,673.9 722.2,674 723,674 723.8,674 724.6,674.1 725.4,674.1 726.2,674.2 727,674.2 727.8,674.2 728.6,674.3 729.4,674.3 730.2,674.3 731,674.4 731.8,674.4 732.6,674.4 733.4,674.4 734.2,674.5 735,674.5 735.8,674.5 736.6,674.5 737.4,674.6 738.2,674.6 739,674.6 739.8,674.6 740.6,674.6 741.4,674.7 742.2,674.7 743,674.7 743.8,674.7 744.6,674.7 745.4,674.8 746.2,674.8 747,674.8 747.8,674.8 748.6,674.8 749.4,674.8 750.2,674.9 751,674.9 751.8,674.9 752.6,674.9 753.4,674.9 754.2,674.9 755,675 755.8,675 756.6,675 757.4,675 758.2,675 759,675 759.8,675.1 760.6,675.1 761.4,675.1 762.2,675.1 763,675.1 763.8,675.1 764.6,675.1 765.4,675.2 766.2,675.2 767,675.2 767.8,675.2 768.6,675.2 769.4,675.2 770.2,675.2 771,675.3 771.8,675.3 772.6,675.3 773.4,675.3 774.2,675.3 775,675.3 775.8,675.3 776.6,675.3 777.4,675.4 778.2,675.4 779,675.4 779.8,675.4 780.6,675.4 781.4,675.4 782.2,675.4 783,675.4 783.8,675.4 784.6,675.4 785.4,675.5 786.2,675.5 787,675.5 787.8,675.5 788.6,675.5 789.4,675.5 790.2,675.5 791,675.5 791.8,675.5 792.6,675.5 793.4,675.5 794.2,675.5 795,675.5 795.8,675.5 796.6,675.6 797.4,675.6 798.2,675.6 799,675.6 799.8,675.6 800.6,675.6 801.4,675.6 802.2,675.6 803,675.6 803.8,675.6" fill="none" stroke="#808080" stroke-width="3.2" stroke-linejoin="round" stroke-linecap="round" />
<polyline points="691,672.5 691.8,672.4 692.6,672.3 693.4,672.1 694.2,671.9 695,671.7 695.8,671.4 696.6,671.1 697.4,670.6 698.2,670.1 699,669.5 699.8,668.8 700.6,667.9 701.4,667 702.2,665.8 703,664.6 703.8,663.1 704.6,661.6 705.4,659.8 706.2,658 707,656 707.8,653.8 708.6,651.6 709.4,649.3 710.2,647 711,644.7 711.8,642.4 712.6,640.2 713.4,638 714.2,636.1 715,634.4 715.8,632.9 716.6,631.6 717.4,630.7 718.2,630.1 719,629.8 719.8,629.9 720.6,630.1 721.4,630.5 722.2,631.1 723,631.9 723.8,632.8 724.6,633.9 725.4,635.1 726.2,636.4 727,637.8 727.8,639.3 728.6,640.9 729.4,642.5 730.2,644.2 731,646 731.8,647.7 732.6,649.4 733.4,651.2 734.2,652.8 735,654.5 735.8,656.1 736.6,657.7 737.4,659.1 738.2,660.6 739,661.9 739.8,663.2 740.6,664.3 741.4,665.4 742.2,666.5 743,667.4 743.8,668.3 744.6,669.1 745.4,669.8 746.2,670.4 747,671 747.8,671.5 748.6,672 749.4,672.4 750.2,672.8 751,673.1 751.8,673.4 752.6,673.6 753.4,673.9 754.2,674.1 755,674.2 755.8,674.4 756.6,674.5 757.4,674.6 758.2,674.7" fill="none" stroke="#800000" stroke-width="3.0" stroke-linejoin="round" stroke-linecap="round" />
<polyline points="707,672.9 707.8,672.8 708.6,672.7 709.4,672.6 710.2,672.4 711,672.2 711.8,671.9 712.6,671.6 713.4,671.1 714.2,670.6 715,670 715.8,669.3 716.6,668.5 717.4,667.5 718.2,666.4 719,665.1 719.8,663.6 720.6,662 721.4,660.2 722.2,658.2 723,656 723.8,653.6 724.6,651 725.4,648.3 726.2,645.4 727,642.4 727.8,639.2 728.6,636.1 729.4,632.8 730.2,629.6 731,626.5 731.8,623.4 732.6,620.5 733.4,617.8 734.2,615.3 735,613.1 735.8,611.3 736.6,609.8 737.4,608.6 738.2,607.9 739,607.6 739.8,607.7 740.6,608.3 741.4,609.3 742.2,610.6 743,612.4 743.8,614.4 744.6,616.8 745.4,619.5 746.2,622.3 747,625.4 747.8,628.5 748.6,631.8 749.4,635 750.2,638.3 751,641.5 751.8,644.6 752.6,647.6 753.4,650.5 754.2,653.2 755,655.7 755.8,658.1 756.6,660.2 757.4,662.2 758.2,664 759,665.6 759.8,667 760.6,668.3 761.4,669.4 762.2,670.3 763,671.2 763.8,671.9 764.6,672.5 765.4,673 766.2,673.4 767,673.8 767.8,674.1 768.6,674.3 769.4,674.5 770.2,674.7 771,674.8 771.8,674.9" fill="none" stroke="#800000" stroke-width="3.0" stroke-linejoin="round" stroke-linecap="round" />
<polyline points="717.4,673.4 718.2,673.3 719,673.2 719.8,673.1 720.6,673 721.4,672.8 722.2,672.6 723,672.3 723.8,672 724.6,671.6 725.4,671.2 726.2,670.7 727,670.1 727.8,669.3 728.6,668.5 729.4,667.6 730.2,666.5 731,665.3 731.8,664 732.6,662.5 733.4,660.9 734.2,659.2 735,657.3 735.8,655.2 736.6,653 737.4,650.7 738.2,648.3 739,645.7 739.8,643.1 740.6,640.4 741.4,637.7 742.2,635 743,632.3 743.8,629.7 744.6,627.1 745.4,624.7 746.2,622.4 747,620.3 747.8,618.4 748.6,616.8 749.4,615.4 750.2,614.3 751,613.5 751.8,613.1 752.6,612.9 753.4,613.2 754.2,613.9 755,615 755.8,616.6 756.6,618.6 757.4,620.9 758.2,623.5 759,626.4 759.8,629.4 760.6,632.6 761.4,635.8 762.2,639.1 763,642.4 763.8,645.6 764.6,648.7 765.4,651.6 766.2,654.4 767,657 767.8,659.4 768.6,661.6 769.4,663.5 770.2,665.3 771,666.9 771.8,668.2 772.6,669.4 773.4,670.5 774.2,671.4 775,672.1 775.8,672.8 776.6,673.3 777.4,673.7 778.2,674.1 779,674.4 779.8,674.6 780.6,674.8 781.4,674.9 782.2,675.1" fill="none" stroke="#800000" stroke-width="3.0" stroke-linejoin="round" stroke-linecap="round" />
<polyline points="724.6,673.8 725.4,673.8 726.2,673.7 727,673.7 727.8,673.6 728.6,673.6 729.4,673.5 730.2,673.4 731,673.2 731.8,673.1 732.6,672.9 733.4,672.8 734.2,672.5 735,672.3 735.8,672 736.6,671.7 737.4,671.4 738.2,671 739,670.6 739.8,670.2 740.6,669.7 741.4,669.2 742.2,668.7 743,668.2 743.8,667.6 744.6,667 745.4,666.3 746.2,665.7 747,665 747.8,664.3 748.6,663.7 749.4,663 750.2,662.3 751,661.6 751.8,660.9 752.6,660.3 753.4,659.7 754.2,659.1 755,658.5 755.8,658 756.6,657.6 757.4,657.2 758.2,656.8 759,656.5 759.8,656.3 760.6,656.2 761.4,656.1 762.2,656.1 763,656.2 763.8,656.3 764.6,656.6 765.4,656.9 766.2,657.3 767,657.8 767.8,658.3 768.6,658.9 769.4,659.5 770.2,660.2 771,660.9 771.8,661.7 772.6,662.4 773.4,663.2 774.2,664 775,664.8 775.8,665.5 776.6,666.3 777.4,667 778.2,667.7 779,668.4 779.8,669.1 780.6,669.7 781.4,670.3 782.2,670.8 783,671.3 783.8,671.8 784.6,672.2 785.4,672.6 786.2,673 787,673.3 787.8,673.6 788.6,673.9 789.4,674.1 790.2,674.3 791,674.5 791.8,674.6 792.6,674.8 793.4,674.9 794.2,675 795,675.1 795.8,675.2" fill="none" stroke="#800000" stroke-width="3.0" stroke-linejoin="round" stroke-linecap="round" />
<polyline points="758.2,674.7 759,674.6 759.8,674.5 760.6,674.3 761.4,674 762.2,673.7 763,673.4 763.8,673 764.6,672.5 765.4,671.9 766.2,671.4 767,670.7 767.8,670.1 768.6,669.5 769.4,668.9 770.2,668.4 771,667.9 771.8,667.6 772.6,667.4 773.4,667.3 774.2,667.4 775,667.6 775.8,667.9 776.6,668.3 777.4,668.9 778.2,669.5 779,670.1 779.8,670.8 780.6,671.4 781.4,672 782.2,672.6 783,673.1 783.8,673.6 784.6,674 785.4,674.3 786.2,674.6 787,674.8 787.8,675 788.6,675.1" fill="none" stroke="#800000" stroke-width="3.0" stroke-linejoin="round" stroke-linecap="round" />
<polyline points="622.2,672.7 623,672.7 623.8,672.7 624.6,672.7 625.4,672.7 626.2,672.7 627,672.7 627.8,672.7 628.6,672.7 629.4,672.7 630.2,672.7 631,672.7 631.8,672.7 632.6,672.7 633.4,672.7 634.2,672.7 635,672.7 635.8,672.6 636.6,672.6 637.4,672.6 638.2,672.6 639,672.6 639.8,672.6 640.6,672.6 641.4,672.6 642.2,672.6 643,672.6 643.8,672.6 644.6,672.6 645.4,672.6 646.2,672.5 647,672.5 647.8,672.5 648.6,672.5 649.4,672.5 650.2,672.5 651,672.5 651.8,672.5 652.6,672.5 653.4,672.4 654.2,672.4 655,672.4 655.8,672.4 656.6,672.4 657.4,672.4 658.2,672.3 659,672.3 659.8,672.3 660.6,672.3 661.4,672.2 662.2,672.2 663,672.2 663.8,672.1 664.6,672.1 665.4,672.1 666.2,672 667,672 667.8,671.9 668.6,671.9 669.4,671.8 670.2,671.8 671,671.7 671.8,671.6 672.6,671.5 673.4,671.4 674.2,671.3 675,671.1 675.8,670.9 676.6,670.8 677.4,670.6 678.2,670.4 679,670.2 679.8,670 680.6,669.9 681.4,669.7 682.2,669.5 683,669.3 683.8,669.1 684.6,668.9 685.4,668.6 686.2,668.4 687,668.1 687.8,667.9 688.6,667.6 689.4,667.3 690.2,666.9 691,666.5 691.8,666 692.6,665.5 693.4,664.9 694.2,664.3 695,663.7 695.8,663.1 696.6,662.4 697.4,661.8 698.2,661.1 699,660.3 699.8,659.6 700.6,658.8 701.4,658 702.2,657.2 703,656.3 703.8,655.4 704.6,654.5 705.4,653.5 706.2,652.6 707,651.5 707.8,650.4 708.6,649.3 709.4,648.1 710.2,646.9 711,645.6 711.8,644.3 712.6,642.9 713.4,641.5 714.2,640 715,638.5 715.8,636.9 716.6,635.2 717.4,633.4 718.2,631.5 719,629.5 719.8,627.5 720.6,625.4 721.4,623.2 722.2,620.9 723,618.7 723.8,616.3 724.6,613.9 725.4,611.4 726.2,608.8 727,606.1 727.8,603.3 728.6,600.4 729.4,597.5 730.2,594.4 731,591.1 731.8,587.8 732.6,584.5 733.4,581.1 734.2,577.9 735,574.4 735.8,570.9 736.6,567.5 737.4,564.2 738.2,561.3 739,558.9 739.8,556.8 740.6,554.9 741.4,553.6 742.2,552.9 743,552.3 743.8,551.9 744.6,551.7 745.4,551.9 746.2,552.3 747,553 747.8,553.8 748.6,555.1 749.4,556.8 750.2,558.8 751,560.8 751.8,563 752.6,565.4 753.4,567.9 754.2,570.7 755,573.6 755.8,576.7 756.6,579.9 757.4,583.6 758.2,587.6 759,591.8 759.8,596 760.6,600.1 761.4,604.2 762.2,608.4 763,612.4 763.8,616.3 764.6,619.9 765.4,623.4 766.2,626.7 767,630 767.8,633.1 768.6,636 769.4,638.7 770.2,641.4 771,644 771.8,646.6 772.6,649.1 773.4,651.4 774.2,653.5 775,655.4 775.8,657 776.6,658.5 777.4,659.9 778.2,661.2 779,662.5 779.8,663.7 780.6,664.9 781.4,666 782.2,667 783,667.9 783.8,668.8 784.6,669.5 785.4,670.1 786.2,670.7 787,671.1 787.8,671.5 788.6,671.9 789.4,672.3 790.2,672.6 791,672.9 791.8,673.2 792.6,673.5 793.4,673.8 794.2,674 795,674.2 795.8,674.4 796.6,674.5 797.4,674.7 798.2,674.8 799,674.9 799.8,675 800.6,675 801.4,675.1 802.2,675.2 803,675.2 803.8,675.3 804.6,675.4 805.4,675.4 806.2,675.5 807,675.5 807.8,675.5 808.6,675.6 809.4,675.6 810.2,675.6 811,675.6 811.8,675.6 812.6,675.6 813.4,675.7 814.2,675.7 815,675.7 815.8,675.7 816.6,675.7 817.4,675.7 818.2,675.7 819,675.7 819.8,675.7 820.6,675.7 821.4,675.7 822.2,675.8 823,675.8 823.8,675.8 824.6,675.8 825.4,675.8 826.2,675.8 827,675.8 827.8,675.8 828.6,675.8 829.4,675.8 830.2,675.8 831,675.8 831.8,675.8 832.6,675.8" fill="none" stroke="#ff8000" stroke-width="3.6" stroke-linejoin="round" stroke-linecap="round" />
<rect x="477.4" y="383" width="406.4" height="322" fill="none" stroke="#000" stroke-width="3"/>
<line x1="486.9" y1="705" x2="486.9" y2="713" stroke="#000" stroke-width="3" stroke-linecap="butt"/>
<line x1="583.9" y1="705" x2="583.9" y2="713" stroke="#000" stroke-width="3" stroke-linecap="butt"/>
<line x1="680.8" y1="705" x2="680.8" y2="713" stroke="#000" stroke-width="3" stroke-linecap="butt"/>
<line x1="777.8" y1="705" x2="777.8" y2="713" stroke="#000" stroke-width="3" stroke-linecap="butt"/>
<line x1="874.7" y1="705" x2="874.7" y2="713" stroke="#000" stroke-width="3" stroke-linecap="butt"/>
<line x1="535.4" y1="705" x2="535.4" y2="710" stroke="#000" stroke-width="3" stroke-linecap="butt"/>
<line x1="632.3" y1="705" x2="632.3" y2="710" stroke="#000" stroke-width="3" stroke-linecap="butt"/>
<line x1="729.3" y1="705" x2="729.3" y2="710" stroke="#000" stroke-width="3" stroke-linecap="butt"/>
<line x1="826.2" y1="705" x2="826.2" y2="710" stroke="#000" stroke-width="3" stroke-linecap="butt"/>
<text x="0" y="0" font-family='"Liberation Sans", sans-serif' font-size="15" font-weight="bold" fill="#000" text-anchor="middle"  transform="translate(486.9 728.3) scale(1 1.1)">545</text>
<text x="0" y="0" font-family='"Liberation Sans", sans-serif' font-size="15" font-weight="bold" fill="#000" text-anchor="middle"  transform="translate(583.9 728.3) scale(1 1.1)">540</text>
<text x="0" y="0" font-family='"Liberation Sans", sans-serif' font-size="15" font-weight="bold" fill="#000" text-anchor="middle"  transform="translate(680.8 728.3) scale(1 1.1)">535</text>
<text x="0" y="0" font-family='"Liberation Sans", sans-serif' font-size="15" font-weight="bold" fill="#000" text-anchor="middle"  transform="translate(777.8 728.3) scale(1 1.1)">530</text>
<text x="0" y="0" font-family='"Liberation Sans", sans-serif' font-size="15" font-weight="bold" fill="#000" text-anchor="middle"  transform="translate(874.7 728.3) scale(1 1.1)">525</text>
<text x="0" y="0" font-family='"Liberation Sans", sans-serif' font-size="15.2" font-weight="bold" fill="#000" text-anchor="middle"  transform="translate(688.5 754) scale(1 1.07)" textLength="137.8" lengthAdjust="spacingAndGlyphs">Binding Energy, eV</text>
<rect x="839.4" y="391.1" width="32.3" height="36" fill="#9a9a9a" filter="url(#blur)"/>
<rect x="838.9" y="389.1" width="32.3" height="36" fill="#d7d7d7"/>
<text x="0" y="0" font-family='"Liberation Serif", serif' font-size="24" font-weight="bold" fill="#000" text-anchor="middle"  transform="translate(852.8 416.2) scale(0.95 1.05)">D</text>
<rect x="785.1" y="482.4" width="88.7" height="29.4" fill="#9a9a9a" filter="url(#blur)"/>
<rect x="784.6" y="480.4" width="88.7" height="29.4" fill="#d9e1f2"/>
<text x="0" y="0" font-family='"Liberation Serif", serif' font-size="19.3" font-weight="bold" fill="#ff0000" text-anchor="start" filter="url(#tsh)" transform="translate(790.4 501.8) scale(1 1.07)" textLength="71.8" lengthAdjust="spacingAndGlyphs">FeNiP-R</text>
<rect x="784.8" y="624.9" width="89" height="30.2" fill="#9a9a9a" filter="url(#blur)"/>
<rect x="784.3" y="622.9" width="89" height="30.2" fill="#d9e1f2"/>
<text x="0" y="0" font-family='"Liberation Serif", serif' font-size="19.3" font-weight="bold" fill="#ff0000" text-anchor="start" filter="url(#tsh)" transform="translate(790.1 645.1) scale(1 1.07)" textLength="67.8" lengthAdjust="spacingAndGlyphs">FeNiP-S</text>
<line x1="494" y1="432.6" x2="528.4" y2="432.6" stroke="#000" stroke-width="3.5" stroke-linecap="round"/>
<text x="0" y="0" font-family='"Liberation Sans", sans-serif' font-size="14.4" font-weight="bold" fill="#000" text-anchor="start"  transform="translate(531.4 436.4) scale(1 1.06)" textLength="121" lengthAdjust="spacingAndGlyphs">Experimental data</text>
<line x1="494" y1="451.4" x2="528.4" y2="451.4" stroke="#ff0000" stroke-width="3.5" stroke-linecap="round"/>
<text x="0" y="0" font-family='"Liberation Sans", sans-serif' font-size="14.4" font-weight="bold" fill="#ff0000" text-anchor="start"  transform="translate(531.4 456.4) scale(1 1.06)" textLength="75.4" lengthAdjust="spacingAndGlyphs">Peak fitting</text>
<line x1="494" y1="471.3" x2="528.4" y2="471.3" stroke="#00ff00" stroke-width="3.5" stroke-linecap="round"/>
<text x="0" y="0" font-family='"Liberation Sans", sans-serif' font-size="14.4" font-weight="bold" fill="#00ff00" text-anchor="start"  transform="translate(531.4 475.9) scale(1 1.06)" textLength="124.1" lengthAdjust="spacingAndGlyphs">Background data</text>
<line x1="494" y1="492" x2="528.4" y2="492" stroke="#808000" stroke-width="3.5" stroke-linecap="round"/>
<text x="0" y="0" font-family='"Liberation Sans", sans-serif' font-size="14.4" font-weight="bold" fill="#808000" text-anchor="start"  transform="translate(531.4 495.9) scale(1 1.06)" textLength="71.8" lengthAdjust="spacingAndGlyphs">Peak Sum</text>
<line x1="503.6" y1="589.3" x2="537.9" y2="589.3" stroke="#0000ff" stroke-width="3.5" stroke-linecap="round"/>
<text x="0" y="0" font-family='"Liberation Sans", sans-serif' font-size="14.4" font-weight="bold" fill="#0000ff" text-anchor="start"  transform="translate(541.2 594) scale(1 1.06)" textLength="120.2" lengthAdjust="spacingAndGlyphs">Experimental data</text>
<line x1="503.6" y1="607.8" x2="537.9" y2="607.8" stroke="#800000" stroke-width="3.5" stroke-linecap="round"/>
<text x="0" y="0" font-family='"Liberation Sans", sans-serif' font-size="14.4" font-weight="bold" fill="#800000" text-anchor="start"  transform="translate(541.2 613.6) scale(1 1.06)" textLength="75" lengthAdjust="spacingAndGlyphs">Peak fitting</text>
<line x1="503.6" y1="628.2" x2="537.9" y2="628.2" stroke="#808080" stroke-width="3.5" stroke-linecap="round"/>
<text x="0" y="0" font-family='"Liberation Sans", sans-serif' font-size="14.4" font-weight="bold" fill="#808080" text-anchor="start"  transform="translate(541.2 634) scale(1 1.06)" textLength="124.2" lengthAdjust="spacingAndGlyphs">Background data</text>
<line x1="503.6" y1="649" x2="537.9" y2="649" stroke="#ff8000" stroke-width="3.5" stroke-linecap="round"/>
<text x="0" y="0" font-family='"Liberation Sans", sans-serif' font-size="14.4" font-weight="bold" fill="#ff8000" text-anchor="start"  transform="translate(541.2 654.3) scale(1 1.06)" textLength="71.2" lengthAdjust="spacingAndGlyphs">Peak Sum</text>
</svg></body></html>
